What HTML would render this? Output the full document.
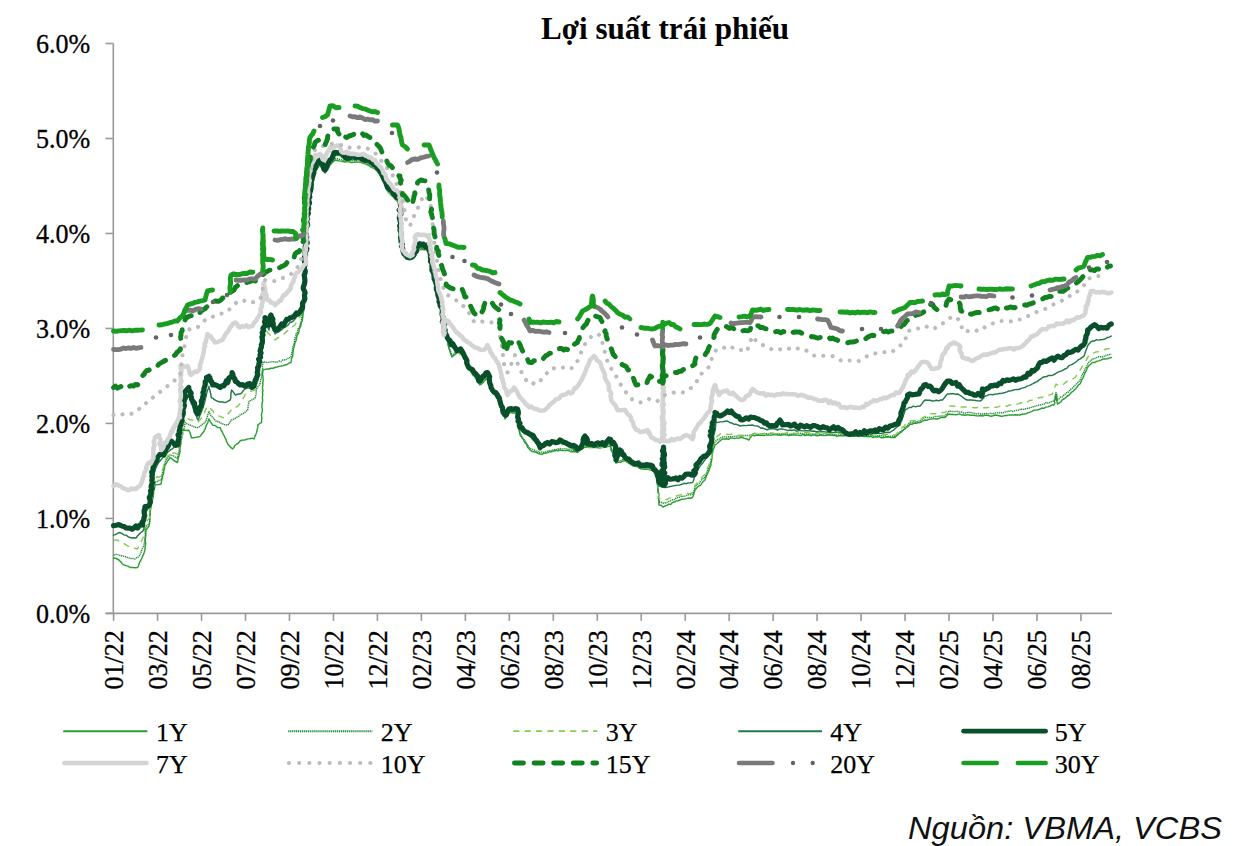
<!DOCTYPE html>
<html><head><meta charset="utf-8"><title>Lợi suất trái phiếu</title>
<style>
html,body{margin:0;padding:0;background:#fff;}
body{width:1242px;height:846px;overflow:hidden;font-family:"Liberation Serif",serif;}
svg{display:block}
</style></head><body>
<svg width="1242" height="846" viewBox="0 0 1242 846">
<rect width="1242" height="846" fill="#ffffff"/>
<g stroke="#9a9a9a" stroke-width="1.6" fill="none">
<path d="M113.3,43.5 V613.4"/>
<path d="M105.5,613.4 H1112"/>
<path d="M105.5,613.40 H113.3"/>
<path d="M105.5,518.42 H113.3"/>
<path d="M105.5,423.43 H113.3"/>
<path d="M105.5,328.45 H113.3"/>
<path d="M105.5,233.47 H113.3"/>
<path d="M105.5,138.48 H113.3"/>
<path d="M105.5,43.50 H113.3"/>
<path d="M113.60,613.4 V620.9"/>
<path d="M157.57,613.4 V620.9"/>
<path d="M201.54,613.4 V620.9"/>
<path d="M245.51,613.4 V620.9"/>
<path d="M289.48,613.4 V620.9"/>
<path d="M333.45,613.4 V620.9"/>
<path d="M377.42,613.4 V620.9"/>
<path d="M421.39,613.4 V620.9"/>
<path d="M465.36,613.4 V620.9"/>
<path d="M509.33,613.4 V620.9"/>
<path d="M553.30,613.4 V620.9"/>
<path d="M597.27,613.4 V620.9"/>
<path d="M641.24,613.4 V620.9"/>
<path d="M685.21,613.4 V620.9"/>
<path d="M729.18,613.4 V620.9"/>
<path d="M773.15,613.4 V620.9"/>
<path d="M817.12,613.4 V620.9"/>
<path d="M861.09,613.4 V620.9"/>
<path d="M905.06,613.4 V620.9"/>
<path d="M949.03,613.4 V620.9"/>
<path d="M993.00,613.4 V620.9"/>
<path d="M1036.97,613.4 V620.9"/>
<path d="M1080.94,613.4 V620.9"/>
</g>
<g fill="none" stroke-linejoin="round" stroke-linecap="round">
<path d="M113.5,558 L116.25,558.51 L119,560 L120.67,561.82 L122.33,563.73 L124,565 L126,565.63 L128,566.14 L130,567.5 L132.5,567.47 L135,567.69 L137.5,567.5 L138.38,566.06 L139.25,563.26 L140.12,561.36 L141,560 L141.8,558.28 L142.6,556.19 L143.4,554.61 L144.2,552.39 L145,550 L145.08,548 L145.13,546 L145.73,544 L145.33,542 L145.31,540 L145.33,538 L145.72,536 L145.83,534 L145.82,532 L146,530 L147.5,527.98 L149,526 L149.25,524 L149.54,522 L149.83,520 L149.8,518 L149.51,516 L150.29,514 L149.97,512 L150.5,510 L150.83,507.92 L150.9,505.83 L151.63,503.75 L151.81,501.67 L152.43,499.58 L153.18,497.5 L153.11,495.42 L153.7,493.33 L153.56,491.25 L154.18,489.17 L154.78,487.08 L155,485 L157,484.63 L159,484.48 L161,484 L161.47,481.89 L161.65,479.78 L162.47,477.67 L162.58,475.56 L163.65,473.44 L163.55,471.33 L164.28,469.22 L164.56,467.11 L165,465 L166.25,463.51 L167.5,461.01 L168.75,459.77 L170,457.5 L171.88,458.7 L173.75,460.51 L175.62,461.5 L177.5,462.5 L177.95,460.42 L178.15,458.33 L178.93,456.25 L179.28,454.17 L179.98,452.08 L180,450 L180.05,447.8 L180.42,445.6 L180.56,443.4 L180.65,441.2 L180.77,439 L180.91,436.8 L180.87,434.6 L180.91,432.4 L181.3,430.2 L183.8,430.04 L186.3,430.44 L188.8,430.2 L190.03,432.7 L190.77,435.2 L191.4,437.7 L193.57,437.8 L195.75,437.36 L197.93,437 L200.1,436.4 L201.35,434.6 L202.6,432.96 L203.85,431.48 L205.1,428.9 L205.78,426.9 L206.45,424.9 L207.81,422.9 L208.2,420.9 L208.9,418.9 L210.17,421.36 L211.43,423.38 L212.7,425.1 L215.2,425.48 L217.7,427.49 L220.2,427.6 L221.12,430.21 L222.05,431.47 L222.97,433.6 L223.9,435.2 L224.85,437.43 L225.8,439.2 L226.75,441.68 L227.7,443.9 L229.37,445.72 L231.03,447.68 L232.7,448.9 L233.95,447.33 L235.2,445.2 L236.77,443.97 L238.35,443.24 L239.93,441.15 L241.5,440.2 L243.57,440.08 L245.63,439.78 L247.7,438.9 L249.8,438.78 L251.9,438.18 L254,438.9 L254.83,436.47 L255.67,434.86 L256.5,432.7 L257.06,430.17 L257.74,427.63 L257.8,425.1 L259.65,423.45 L261.5,422.6 L261.57,420.6 L261.79,418.59 L261.66,416.59 L261.33,414.58 L262.02,412.58 L262.32,410.57 L262.2,408.56 L261.8,406.56 L261.99,404.56 L262.2,402.55 L262.65,400.55 L262.43,398.54 L262.37,396.54 L262.78,394.53 L262.46,392.52 L262.97,390.52 L262.44,388.51 L262.56,386.51 L262.91,384.5 L262.8,382.5 L263.18,380.42 L263.02,378.33 L262.97,376.25 L262.5,374.17 L262.8,372.08 L263,370 L265,369.34 L267,368.95 L269,368.98 L271,368.2 L273,368.23 L275,367.5 L277,367.03 L279,366.37 L281,366.05 L283,365.67 L285,365 L287,364.51 L289,363.14 L291,362.5 L291.34,360.5 L291.47,358.5 L292.58,356.5 L292.95,354.5 L292.96,352.5 L293.29,350.5 L293.5,348.5 L294.24,346.5 L294.65,344.5 L295,342.5 L296.1,340.56 L296.39,338.61 L296.81,336.67 L297.23,334.72 L298.67,332.78 L299.05,330.83 L299.28,328.89 L300.38,326.94 L301,325 L301.04,322.86 L302.29,320.71 L302.55,318.57 L302.85,316.43 L303.1,314.29 L303.14,312.14 L304,310 L304.04,308 L303.76,306 L304.34,304 L303.83,302 L304.12,300 L304.69,298 L304.86,296 L304.25,294 L304.23,292 L304.88,290 L304.94,288 L304.56,286 L304.7,284 L304.77,282 L304.71,280 L304.9,278 L305.43,276 L305.37,274 L305.7,272 L305.31,270 L305.37,268 L305.23,266 L305.5,264 L305.28,262 L305.24,260 L305.9,258 L306.15,256 L306.07,254 L306.25,252 L306,250 L306.18,247.94 L306.06,245.88 L306.37,243.82 L306.38,241.76 L306.32,239.71 L306.3,237.65 L306.47,235.59 L306.94,233.53 L307.09,231.47 L307.06,229.41 L307.64,227.35 L307.45,225.29 L307.67,223.24 L307.94,221.18 L307.57,219.12 L307.45,217.06 L308,215 L308.51,212.92 L308.5,210.83 L309.31,208.75 L309.41,206.67 L309.91,204.58 L310.18,202.5 L309.9,200.42 L310.84,198.33 L310.84,196.25 L311.15,194.17 L311.56,192.08 L312,190 L312.58,188 L313.01,186 L313.44,184 L313.2,182 L313.86,180 L313.97,178 L314.78,176 L315.34,174 L315.42,172 L316,170 L317.33,168.43 L318.67,166.76 L320,165 L321.25,167.4 L322.5,168.67 L323.75,170.67 L325,173 L326.25,170.69 L327.5,169.7 L328.75,167.44 L330,165 L331.67,163.28 L333.33,161.76 L335,160 L337,160.45 L339,160.88 L341,161.12 L343,161.47 L345,162 L347.14,161.5 L349.29,161.74 L351.43,162.66 L353.57,162.21 L355.71,162.03 L357.86,161.91 L360,162 L362,162.78 L364,163.64 L366,163.99 L368,165 L370,166.33 L372,167.6 L374,168.45 L376,170 L377.17,171.35 L378.33,172.93 L379.5,174.57 L380.67,177.02 L381.83,177.61 L383,180 L383.83,181.89 L384.67,183.76 L385.5,185.75 L386.33,188.04 L387.17,190.45 L388,192 L389.75,193.78 L391.5,195.44 L393.25,197.01 L395,199 L396.67,200.62 L398.33,202.7 L400,204 L399.96,206 L399.83,208 L399.85,210 L399.94,212 L399.93,214 L400.58,216 L400.45,218 L400.36,220 L400.82,222 L400.37,224 L400.76,226 L400.82,228 L400.31,230 L400.36,232 L400.57,234 L401.06,236 L401.21,238 L400.65,240 L401,242 L401.68,244.14 L401.77,246.29 L402.19,248.43 L402.58,250.57 L403.07,252.71 L403.14,254.86 L404,257 L406.5,258.1 L409,260 L411.5,258.51 L414,258 L415,256.2 L416,254.72 L417,252.72 L418,250 L420,249.87 L422,249.31 L424,249.84 L426,249.62 L428,250 L429.1,252 L429.47,254 L430,256 L430.25,258 L431.08,260 L431.41,262 L431.32,264 L432.02,266 L432.51,268 L433,270 L433.3,272 L433.63,274 L433.82,276 L434.25,278 L434.36,280 L434.58,282 L435.46,284 L435.49,286 L435.81,288 L436,290 L436.28,292.17 L437.29,294.33 L438.2,296.5 L438.36,298.67 L439.6,300.83 L440,303 L440.24,305.08 L440.76,307.17 L440.97,309.25 L441.39,311.33 L441.96,313.42 L441.9,315.5 L442.71,317.58 L442.48,319.67 L442.78,321.75 L443.5,323.83 L443.41,325.92 L444,328 L444.41,330.12 L445.22,332.25 L445.79,334.38 L445.57,336.5 L446.62,338.62 L447.43,340.75 L447.79,342.88 L448,345 L448.61,347 L449.19,349 L449.93,351 L450.39,353 L451.27,355 L452,357 L454,355.26 L456,353.61 L458,352 L459.67,353.81 L461.33,354.57 L463,356 L463.83,357.42 L464.67,360.42 L465.5,361.57 L466.33,363.82 L467.17,365.95 L468,368 L469.2,369.46 L470.4,370.8 L471.6,372.7 L472.8,375.12 L474,376 L475.2,377.56 L476.4,379.55 L477.6,381.85 L478.8,383.5 L480,385 L481.6,383.91 L483.2,382.54 L484.8,380.08 L486.4,379.05 L488,378 L488.53,380.17 L489.12,382.33 L489.81,384.5 L490.11,386.67 L490.44,388.83 L491,391 L492.4,392.62 L493.8,394.12 L495.2,395.9 L496.6,397.67 L498,399 L498.83,400.86 L499.67,402.67 L500.5,404.66 L501.33,407.44 L502.17,409.51 L503,411 L503.74,413 L504.21,415 L504.7,417 L505,419 L506.33,417 L507.67,415.27 L509,413 L511,412.58 L513,412.92 L515,412.71 L517,413 L517.45,415 L517.41,417 L517.79,419 L518.19,421 L518.69,423 L518.45,425 L518.68,427 L519.38,429 L519.19,431 L519.84,433 L520,435 L521.11,436.44 L522.22,438.29 L523.33,439.28 L524.44,441.95 L525.56,443.13 L526.67,444.64 L527.78,447.39 L528.89,448.62 L530,450 L532,451.52 L534,451.76 L536,452.26 L538,453.24 L540,454 L542,454.24 L544,453.19 L546,452.98 L548,452.61 L550,451.64 L552,451.65 L554,451 L556,450.3 L558,450.75 L560,450 L562.19,450.58 L564.38,450.65 L566.56,450.57 L568.75,450.53 L570.94,451.76 L573.12,451.84 L575.31,451.51 L577.5,452.5 L579.38,451.1 L581.25,449.14 L583.12,448.36 L585,447 L587.14,447.2 L589.29,447.43 L591.43,447.52 L593.57,447.64 L595.71,447.26 L597.86,447.7 L600,448 L602,447.4 L604,447.11 L606,446.91 L608,446.65 L610,446 L611.06,447.89 L610.9,449.78 L612.1,451.67 L612.62,453.56 L613.77,455.44 L614.22,457.33 L614.27,459.22 L615.43,461.11 L616,463 L618.25,462.29 L620.5,462.4 L622.75,461.08 L625,461 L627,462.21 L629,463.45 L631,464.71 L633,466 L635,466.37 L637,466.48 L639,467.98 L641,468.8 L643,469 L645,469.17 L647,468.99 L649,469.68 L651,470.03 L653,470 L653.9,471.93 L654.8,473.99 L655.7,476.56 L656.6,477.55 L657.5,480 L657.49,482.08 L657.32,484.17 L657.71,486.25 L657.82,488.33 L657.89,490.42 L658.08,492.5 L658.81,494.58 L658.45,496.67 L658.6,498.75 L659.18,500.83 L658.86,502.92 L659,505 L661,505.31 L663,507 L665,506 L666.88,505.41 L668.75,504.13 L670.62,504.41 L672.5,502.5 L674.38,502.02 L676.25,500.86 L678.12,500.79 L680,500 L682.08,499.18 L684.17,499.14 L686.25,498.6 L688.33,498.09 L690.42,498.29 L692.5,497.5 L693.56,495 L694.18,492.5 L695,490 L696.43,488.21 L697.86,486.71 L699.29,485.82 L700.71,485.01 L702.14,482.67 L703.57,481.11 L705,480 L705.75,477.85 L706.5,475.81 L707.25,473.99 L708,472.42 L708.75,471.2 L709.5,468.75 L710.25,466.67 L711,465 L710.9,462.86 L711.62,460.71 L711.85,458.57 L711.85,456.43 L712.17,454.29 L712.7,452.14 L713,450 L714,447.9 L715,445 L716.88,443.75 L718.75,442.08 L720.62,440.37 L722.5,439 L724.5,438.98 L726.5,438.7 L728.5,439.27 L730.5,437.95 L732.5,438.1 L734.5,438.61 L736.5,437.84 L738.5,438.37 L740.5,437.63 L742.5,437.5 L744.67,438.39 L746.83,439.02 L749,440 L750.17,437.78 L751.33,436.28 L752.5,435 L754.52,435.72 L756.53,435.26 L758.55,435.24 L760.56,435.38 L762.58,435.23 L764.6,435.41 L766.61,434.89 L768.63,434.91 L770.65,435.39 L772.66,434.86 L774.68,434.47 L776.69,434.91 L778.71,434.78 L780.73,435.25 L782.74,434.71 L784.76,434.58 L786.77,434.87 L788.79,435.62 L790.81,434.98 L792.82,435.06 L794.84,435 L796.85,435.12 L798.87,435.37 L800.89,435.56 L802.9,434.34 L804.92,435.54 L806.94,435 L808.95,434.87 L810.97,435.72 L812.98,434.93 L815,435 L817,435.78 L819,435.51 L821,434.78 L823,435.45 L825,435.61 L827,435.32 L829,434.72 L831,435.36 L833,435.49 L835,435.18 L837,436.41 L839,435.65 L841,435.66 L843,435.76 L845,435.62 L847,435.69 L849,436.1 L851,436.25 L853,435.98 L855,436.21 L857,435.76 L859,436.58 L861,436.14 L863,436.59 L865,436.2 L867,436.42 L869,436.77 L871,436.27 L873,437.53 L875,436.86 L877,436.91 L879,436.71 L881,437.7 L883,437.68 L885,437.31 L887,436.7 L889,437.11 L891,437.62 L893,437.23 L895,437.5 L896.67,435.61 L898.33,434.19 L900,432.94 L901.67,431.84 L903.33,430.16 L905,429 L906.67,427.34 L908.33,426.39 L910,424 L912,424.41 L914,422.98 L916,423.24 L918,422.83 L920,422.5 L922.5,421.19 L925,420 L927,420.17 L929,419.37 L931,419.12 L933,418.85 L935,418.71 L937,419.01 L939,418.56 L941,417.46 L943,417.57 L945,417.5 L947,415.43 L949,414 L951.09,414.45 L953.19,414.34 L955.28,414.73 L957.38,414.48 L959.47,413.9 L961.56,414.93 L963.66,414.97 L965.75,415.2 L967.84,414.6 L969.94,415.28 L972.03,415.1 L974.12,415.23 L976.22,415.77 L978.31,415.89 L980.41,415.52 L982.5,416 L984.58,415.26 L986.67,415.17 L988.75,415.6 L990.83,416.23 L992.92,415.7 L995,414.95 L997.08,415.27 L999.17,415.72 L1001.25,416.17 L1003.33,415.91 L1005.42,415.54 L1007.5,415.41 L1009.58,414.85 L1011.67,415.04 L1013.75,415.03 L1015.83,414.8 L1017.92,415.08 L1020,415 L1022,414.24 L1024,413.93 L1026,413.77 L1028,412.9 L1030,412.17 L1032,411.3 L1034,410.19 L1036,410.15 L1038,409.82 L1040,409 L1042,408.03 L1044,408.36 L1046,407.15 L1048,406.86 L1050,406.01 L1052,405.07 L1054,405 L1054.83,403 L1054.52,401 L1055.42,399 L1055.47,397 L1056,395 L1056.44,397.25 L1056.56,399.5 L1057.03,401.75 L1057.5,404 L1059.06,403.12 L1060.62,402.22 L1062.19,399.91 L1063.75,399 L1065.31,398.13 L1066.88,396.25 L1068.44,395.53 L1070,394 L1071.43,392.26 L1072.86,391.38 L1074.29,389.89 L1075.71,388.77 L1077.14,387 L1078.57,384.95 L1080,384 L1080.83,382.43 L1081.67,379.89 L1082.5,378.8 L1083.33,377.27 L1084.17,375.07 L1085,372.78 L1085.83,371.64 L1086.67,369.4 L1087.5,367.5 L1089.17,365.34 L1090.83,364.02 L1092.5,362.5 L1094.59,362.51 L1096.68,361.27 L1098.77,360.88 L1100.86,360.14 L1102.94,359.05 L1105.03,358.96 L1107.12,358.75 L1109.21,358.14 L1111.3,357.5" stroke="#2aa033" stroke-width="1.45"/>
<path d="M113.5,555 L116.25,554.42 L119,555 L121.12,555.72 L123.25,556.14 L125.38,556.68 L127.5,557.5 L130,558.39 L132.5,558.53 L135,559 L136.67,557.56 L138.33,557.05 L140,555 L140.8,552.8 L141.6,550.49 L142.4,548.45 L143.2,546.79 L144,545 L144.32,543 L144.54,541 L144.77,539 L145.1,537 L145.25,535 L145.16,533 L145.49,531 L145.5,529 L145.5,527 L147.5,525.04 L149.5,523.5 L149.83,521.44 L149.78,519.38 L149.84,517.31 L150.43,515.25 L150.32,513.19 L150.15,511.12 L150.37,509.06 L150.5,507 L151.31,504.92 L151.2,502.83 L151.82,500.75 L152.16,498.67 L152.51,496.58 L152.91,494.5 L153.02,492.42 L153.4,490.33 L153.85,488.25 L154.18,486.17 L154.83,484.08 L155,482 L157,481.98 L159,480.33 L161,480 L161.59,478 L161.66,476 L162.18,474 L162.73,472 L163.26,470 L163.57,468 L163.68,466 L164.91,464 L165,462 L166.25,460.16 L167.5,458.26 L168.75,457.05 L170,455 L171.88,455.53 L173.75,455.94 L175.62,457.47 L177.5,458 L178.03,456 L178.15,454 L178.97,452 L179.27,450 L179.32,448 L180,446 L180.87,444 L180.95,442 L181.05,440 L181.87,438 L182.23,436 L182.87,434 L182.75,432 L183.5,430 L184.3,427.53 L184.81,425.07 L185.1,422.6 L187.6,424.1 L190.1,425 L192.6,426.14 L195.1,427.29 L197.6,427.6 L199.47,426.66 L201.35,425.17 L203.22,423.53 L205.1,422.6 L206.14,420.36 L206.87,418.12 L207.47,415.88 L208.19,413.64 L208.9,411.4 L210.15,414.21 L211.4,416.4 L213.07,417.35 L214.73,419.88 L216.4,421.4 L218.5,421.51 L220.6,423.19 L222.7,423.9 L225.2,424.95 L227.7,425.1 L228.97,424.12 L230.23,421.53 L231.5,420 L234,419 L236.5,417.6 L238.57,416.36 L240.63,414.41 L242.7,413.9 L244.37,412.92 L246.03,411.31 L247.7,410 L248.05,407.82 L248.13,405.65 L248.68,403.48 L249,401.3 L251.1,400.12 L253.2,399.37 L255.3,397.6 L255.68,395.4 L256.33,393.2 L256.11,391 L256.5,388.8 L258.25,386.31 L260,384 L260.33,382 L260.48,380 L261.38,378 L261.5,376 L261.37,374 L262,372 L262.24,370 L262.69,368 L262.27,366 L262.85,364 L263,362 L265,361.92 L267,362.72 L269,362.19 L271,361.85 L273,361.79 L275,362 L277,362.32 L279,361.03 L281,361.52 L283,359.79 L285,360 L287,358.94 L289,357.92 L291,357 L291.28,354.89 L291.85,352.78 L292.51,350.67 L292.63,348.56 L292.88,346.44 L294.01,344.33 L294.48,342.22 L294.4,340.11 L295,338 L295.84,336 L296.07,334 L297.51,332 L297.69,330 L298.63,328 L299.93,326 L299.95,324 L301,322 L301.44,320 L301.61,318 L301.85,316 L302.44,314 L303.22,312 L303.26,310 L304,308 L303.94,305.95 L304.33,303.9 L304.18,301.84 L303.97,299.79 L304.72,297.74 L304.45,295.69 L304.84,293.64 L304.31,291.59 L305.04,289.53 L304.37,287.48 L304.35,285.43 L304.74,283.38 L304.82,281.33 L305.04,279.28 L304.91,277.22 L305.27,275.17 L305.51,273.12 L305.09,271.07 L304.99,269.02 L305.29,266.97 L305.66,264.91 L305.73,262.86 L305.51,260.81 L305.43,258.76 L305.73,256.71 L306.04,254.66 L305.7,252.6 L306.26,250.55 L306,248.5 L306.18,246.44 L306.32,244.38 L306.21,242.32 L306.81,240.26 L306.61,238.21 L306.35,236.15 L307.03,234.09 L306.85,232.03 L307.33,229.97 L307.23,227.91 L307.15,225.85 L307.46,223.79 L307.42,221.74 L307.46,219.68 L307.78,217.62 L308.1,215.56 L308,213.5 L308.36,211.42 L308.66,209.33 L308.88,207.25 L309.48,205.17 L309.74,203.08 L310.24,201 L310.43,198.92 L311.1,196.83 L310.63,194.75 L311.33,192.67 L311.81,190.58 L312,188.5 L312.63,186.5 L312.44,184.5 L312.91,182.5 L313.6,180.5 L314.27,178.5 L314.68,176.5 L314.44,174.5 L315.24,172.5 L315.9,170.5 L316,168.5 L317.33,166.86 L318.67,164.77 L320,163.5 L321.25,165.23 L322.5,166.98 L323.75,170 L325,171.5 L326.25,169.41 L327.5,167.34 L328.75,165.16 L330,163.5 L331.67,161.79 L333.33,159.82 L335,158.5 L337,158.52 L339,159.3 L341,159.62 L343,160.3 L345,160.5 L347.14,160.58 L349.29,161 L351.43,160.5 L353.57,160.62 L355.71,160.61 L357.86,160.19 L360,160.5 L362,161.75 L364,161.79 L366,162.13 L368,163.5 L370,165.27 L372,166.28 L374,167.04 L376,168.5 L377.17,170.57 L378.33,172.24 L379.5,173.8 L380.67,174.71 L381.83,176.92 L383,178.5 L383.83,180.1 L384.67,182.27 L385.5,184.29 L386.33,186.17 L387.17,188.72 L388,190.5 L389.75,191.95 L391.5,194.27 L393.25,195.84 L395,197.5 L396.67,198.94 L398.33,200.92 L400,202.5 L400.23,204.5 L400.39,206.5 L400.11,208.5 L400.64,210.5 L400.41,212.5 L400.63,214.5 L400.05,216.5 L400.17,218.5 L400.78,220.5 L400.48,222.5 L400.7,224.5 L400.93,226.5 L400.34,228.5 L400.86,230.5 L401.22,232.5 L401.05,234.5 L400.93,236.5 L401.09,238.5 L401,240.5 L401.44,242.64 L402.05,244.79 L402.61,246.93 L402.67,249.07 L403.29,251.21 L403.65,253.36 L404,255.5 L406.5,257.32 L409,258.5 L411.5,257.85 L414,256.5 L415,254.08 L416,252.99 L417,250.86 L418,248.5 L420,248.07 L422,248.4 L424,247.93 L426,248.4 L428,248.5 L428.76,250.5 L429.06,252.5 L430,254.5 L430.25,256.5 L430.65,258.5 L431.13,260.5 L431.54,262.5 L431.89,264.5 L432.72,266.5 L433,268.5 L433.26,270.5 L433.41,272.5 L434.15,274.5 L434.07,276.5 L434.73,278.5 L434.51,280.5 L435.45,282.5 L435.3,284.5 L435.48,286.5 L436,288.5 L436.78,290.67 L437.02,292.83 L437.75,295 L438.73,297.17 L439.23,299.33 L440,301.5 L440.44,303.58 L440.71,305.67 L441.07,307.75 L441.37,309.83 L441.85,311.92 L442.01,314 L442.61,316.08 L442.9,318.17 L442.57,320.25 L442.92,322.33 L444.05,324.42 L444,326.5 L444.4,328.62 L445.05,330.75 L445.48,332.88 L446.08,335 L446.93,337.12 L446.84,339.25 L447.53,341.38 L448,343.5 L448.68,345.5 L449.08,347.5 L449.8,349.5 L450.61,351.5 L451.34,353.5 L452,355.5 L454,354 L456,351.45 L458,350.5 L459.67,351.22 L461.33,353.85 L463,354.5 L463.83,356.44 L464.67,358.85 L465.5,360.35 L466.33,362.23 L467.17,365.22 L468,366.5 L469.2,367.62 L470.4,369.35 L471.6,371.59 L472.8,372.92 L474,374.5 L475.2,375.66 L476.4,378.17 L477.6,380.21 L478.8,381.1 L480,383.5 L481.6,381.89 L483.2,381.03 L484.8,380.02 L486.4,377.18 L488,376.5 L488.34,378.67 L489.01,380.83 L489.29,383 L489.79,385.17 L490.39,387.33 L491,389.5 L492.4,391.32 L493.8,392.29 L495.2,394.66 L496.6,396.25 L498,397.5 L498.83,399.86 L499.67,402.13 L500.5,403.3 L501.33,405.49 L502.17,407.92 L503,409.5 L503.81,411.5 L504.24,413.5 L504.4,415.5 L505,417.5 L506.33,415.32 L507.67,412.99 L509,411.5 L511,411.34 L513,411.15 L515,411.32 L517,411.5 L517.19,413.5 L517.75,415.5 L518.03,417.5 L518.09,419.5 L518.1,421.5 L518.63,423.5 L519.02,425.5 L519.4,427.5 L519.51,429.5 L519.93,431.5 L520,433.5 L521.11,434.92 L522.22,437.11 L523.33,438.81 L524.44,440.04 L525.56,441.54 L526.67,444.01 L527.78,444.78 L528.89,447.12 L530,448.5 L532,449.21 L534,449.97 L536,450.81 L538,451.54 L540,452.5 L542,452.1 L544,452.42 L546,451.9 L548,450.86 L550,450.7 L552,450.48 L554,449.54 L556,450.02 L558,448.93 L560,448.5 L562.19,449.08 L564.38,448.76 L566.56,449 L568.75,449.36 L570.94,449.82 L573.12,450.8 L575.31,450.57 L577.5,451 L579.38,449.99 L581.25,448.1 L583.12,446.51 L585,445.5 L587.14,445.72 L589.29,445.64 L591.43,445.28 L593.57,446.1 L595.71,446.7 L597.86,446.29 L600,446.5 L602,445.63 L604,445.41 L606,444.83 L608,444.82 L610,444.5 L610.45,446.39 L611.31,448.28 L612.05,450.17 L612.99,452.06 L613.06,453.94 L613.57,455.83 L615.07,457.72 L615.45,459.61 L616,461.5 L618.25,460.87 L620.5,460.72 L622.75,459.64 L625,459.5 L627,460.63 L629,462.28 L631,463.14 L633,464.5 L635,465.17 L637,465.89 L639,466.36 L641,466.82 L643,467.5 L645,467.92 L647,468.44 L649,468.62 L651,467.96 L653,468.5 L653.9,470.72 L654.8,471.58 L655.7,473.65 L656.6,476.27 L657.5,478 L657.76,480 L658.09,482 L657.47,484 L658.27,486 L658,488 L658.15,490 L658.49,492 L658.85,494 L658.41,496 L658.35,498 L658.74,500 L659,502 L661,502.3 L663,503.16 L665,503 L666.88,502.41 L668.75,501.39 L670.62,500.56 L672.5,499.83 L674.38,499.65 L676.25,497.85 L678.12,497.49 L680,497 L682.08,496.16 L684.17,496.46 L686.25,495.56 L688.33,494.74 L690.42,494.81 L692.5,494 L693.77,491.67 L694.42,489.33 L695,487 L696.43,485.06 L697.86,484.07 L699.29,483.18 L700.71,480.57 L702.14,479.38 L703.57,478.27 L705,477 L705.75,475.35 L706.5,472.93 L707.25,471.45 L708,469.45 L708.75,467.77 L709.5,465.28 L710.25,463.15 L711,462 L710.85,460 L711.62,458 L712.1,456 L712.26,454 L712.05,452 L712.3,450 L713,448 L713.6,446 L714.12,444 L715,442 L716.88,440.03 L718.75,439.28 L720.62,437.94 L722.5,437 L724.5,436.86 L726.5,436.96 L728.5,436.78 L730.5,436.68 L732.5,436.72 L734.5,436.37 L736.5,436.13 L738.5,436.07 L740.5,436.58 L742.5,436 L744.5,435.5 L746.5,435.53 L748.5,435.47 L750.5,435.1 L752.5,434 L754.52,433.28 L756.53,434.07 L758.55,434.4 L760.56,433.83 L762.58,433.72 L764.6,433.44 L766.61,433.74 L768.63,434.01 L770.65,433.28 L772.66,434 L774.68,433.67 L776.69,434.01 L778.71,433.57 L780.73,434.04 L782.74,434.07 L784.76,433.73 L786.77,433.74 L788.79,434.39 L790.81,434.26 L792.82,433.69 L794.84,434.18 L796.85,433.54 L798.87,433.8 L800.89,433.28 L802.9,433.78 L804.92,434.28 L806.94,433.81 L808.95,434.24 L810.97,433.75 L812.98,434.13 L815,434 L817,434.01 L819,433.74 L821,434.91 L823,433.92 L825,433.78 L827,434.43 L829,434.63 L831,434.64 L833,434.53 L835,434.82 L837,435.07 L839,435 L841,434.27 L843,435.57 L845,434.93 L847,434.28 L849,435.4 L851,435.07 L853,435.31 L855,435.97 L857,435.1 L859,435.13 L861,435.05 L863,435.58 L865,435.83 L867,435.79 L869,435.76 L871,435.03 L873,435.92 L875,436.31 L877,435.74 L879,435.79 L881,435.66 L883,436.23 L885,435.57 L887,436.97 L889,436.24 L891,436.14 L893,435.96 L895,436.5 L896.67,435.22 L898.33,433.89 L900,431.78 L901.67,430.57 L903.33,429.12 L905,427.5 L906.67,426.23 L908.33,424.42 L910,422.5 L912,422.7 L914,421.34 L916,422.32 L918,421.11 L920,421 L921.67,419.39 L923.33,418.3 L925,417.5 L927,417.51 L929,417.51 L931,417.77 L933,417.4 L935,416.45 L937,416.47 L939,416.27 L941,416.07 L943,416.09 L945,416 L946.33,414.09 L947.67,413.14 L949,411 L951.09,411.33 L953.19,411.63 L955.28,411.51 L957.38,411.29 L959.47,412.12 L961.56,411.97 L963.66,413.03 L965.75,413 L967.84,412.21 L969.94,412.49 L972.03,412.85 L974.12,413.17 L976.22,413.9 L978.31,413.56 L980.41,414 L982.5,414 L984.55,413.7 L986.59,413.56 L988.64,413.95 L990.68,413.28 L992.73,413.81 L994.77,412.9 L996.82,412.89 L998.86,412.71 L1000.91,412.64 L1002.95,412.9 L1005,412 L1007,411.44 L1009,411.2 L1011,410.73 L1013,411.52 L1015,410.69 L1017,410.39 L1019,410.09 L1021,408.88 L1023,409.62 L1025,409 L1027.14,408.49 L1029.29,407.99 L1031.43,407.33 L1033.57,406.69 L1035.71,406.12 L1037.86,405.35 L1040,405 L1042,404.35 L1044,404.12 L1046,402.57 L1048,403.05 L1050,402.41 L1052,401.15 L1054,401 L1054.63,398.88 L1055.08,396.75 L1055.38,394.62 L1056,392.5 L1056.91,395 L1057.05,397.5 L1057.5,400 L1059.06,398.7 L1060.62,396.99 L1062.19,396.97 L1063.75,395.1 L1065.31,393.88 L1066.88,392.42 L1068.44,391.97 L1070,390 L1071.43,388.52 L1072.86,387.78 L1074.29,386.14 L1075.71,384.68 L1077.14,383.12 L1078.57,381.9 L1080,380 L1080.94,377.96 L1081.88,375.28 L1082.81,373.28 L1083.75,372.45 L1084.69,369.28 L1085.62,368.54 L1086.56,366.72 L1087.5,364 L1089.17,361.61 L1090.83,360.92 L1092.5,359 L1094.59,358.64 L1096.68,357.61 L1098.77,356.61 L1100.86,356.75 L1102.94,356.91 L1105.03,355.63 L1107.12,355.12 L1109.21,354.6 L1111.3,354" stroke="#258a3c" stroke-width="1.45" stroke-dasharray="1.25 0.7" stroke-linecap="butt"/>
<path d="M113.5,540 L115.5,539.97 L117.5,540 L119.29,541.53 L121.07,541.73 L122.86,542.38 L124.64,544.1 L126.43,545.23 L128.21,546.15 L130,547 L132.5,547.87 L135,548.31 L137.5,549 L138.67,546.65 L139.83,544.43 L141,542.5 L141.75,540.58 L142.5,538.65 L143.25,537.23 L144,535 L144.37,532.83 L144.19,530.67 L144.82,528.5 L144.88,526.33 L145.34,524.17 L145.3,522 L147.4,520.56 L149.5,518 L149.81,515.83 L149.48,513.67 L150.16,511.5 L149.86,509.33 L150.69,507.17 L150.5,505 L150.73,502.92 L151.18,500.85 L151.92,498.77 L151.53,496.69 L152.26,494.62 L152.37,492.54 L152.84,490.46 L153.12,488.38 L153.78,486.31 L153.92,484.23 L154.4,482.15 L154.81,480.08 L155,478 L157,476.77 L159,477.2 L161,476 L161.47,474 L161.67,472 L162.38,470 L163.21,468 L163.74,466 L163.88,464 L164.55,462 L165,460 L166.25,458.12 L167.5,456.41 L168.75,453.99 L170,452 L172.5,453.05 L175,453.06 L177.5,454 L177.79,452 L178.5,450 L178.93,448 L179.18,446 L179.74,444 L180,442 L180.51,439.88 L181.06,437.75 L181.59,435.62 L181.89,433.5 L182.39,431.38 L182.57,429.25 L182.97,427.12 L183.5,425 L183.66,422.53 L184.68,420.07 L185.1,417.6 L187.2,418.45 L189.3,419.43 L191.4,420 L193.47,420.24 L195.53,421.6 L197.6,422.6 L199.27,420.77 L200.93,418.66 L202.6,417.6 L203.58,415.6 L204.41,413.6 L204.63,411.6 L205.76,409.6 L206.4,407.6 L207.6,406.3 L210.2,407.6 L211.45,409.81 L212.7,410.36 L213.95,412.72 L215.2,413.9 L217.7,415.76 L220.2,416.4 L222.7,417.63 L225.2,417.6 L226.87,415.09 L228.53,413.13 L230.2,411.4 L231.45,409.62 L232.7,407.6 L235.2,407.42 L237.7,406.3 L239.6,404.04 L241.5,402.6 L242.43,400.17 L243.35,397.84 L244.27,396.44 L245.2,393.8 L247.7,392.39 L250.2,391.3 L252.75,390.9 L255.3,390 L256.01,388 L256.67,386 L257.06,384 L257.5,382 L257.85,380 L258.27,378 L258.38,376 L258.25,374 L258.66,372 L259.22,370 L259.3,368 L259.5,366 L259.7,364 L260.08,362 L260.63,360 L260.51,358 L260.88,356 L261.12,354 L261.22,352 L261.5,350 L262.53,347.5 L263,345 L263.49,342.86 L263.68,340.71 L263.59,338.57 L264.44,336.43 L264.62,334.29 L264.72,332.14 L265,330 L266.67,331.04 L268.33,333.35 L270,335 L271.67,336.27 L273.33,338.29 L275,340 L276.67,338.69 L278.33,337.41 L280,336.9 L281.67,335.42 L283.33,334.65 L285,333 L286.67,331.36 L288.33,330.31 L290,329.53 L291.67,327.82 L293.33,326.11 L295,325 L296.2,322.72 L297.4,320.83 L298.6,319.01 L299.8,317.29 L301,315 L301.66,313 L302.39,311 L303.01,309 L303.45,307 L304,305 L304.36,302.94 L304.29,300.89 L304.15,298.83 L304.21,296.78 L304.3,294.72 L304.2,292.67 L304.12,290.61 L304.48,288.56 L304.41,286.5 L304.71,284.44 L304.51,282.39 L304.71,280.33 L304.79,278.28 L304.7,276.22 L304.9,274.17 L304.76,272.11 L304.88,270.06 L305,268 L305.3,266 L305.31,264 L305.32,262 L305.25,260 L305.67,258 L305.98,256 L305.32,254 L306.05,252 L305.97,250 L306.26,248 L306.38,246 L306,244 L306.68,242 L306.3,240 L306.47,238 L306.76,236 L306.7,234 L306.88,232 L306.81,230 L306.8,228 L307.13,226 L306.99,224 L307.61,222 L307.48,220 L307.5,218 L308.06,216 L307.72,214 L307.82,212 L308.06,210 L308.61,208 L308.64,206 L309.23,204 L309.07,202 L309.32,200 L309.92,198 L310,196 L310.47,194 L310.73,192 L310.87,190 L311,188 L311.16,186 L311.64,184 L312.58,182 L312.57,180 L313.09,178 L313.45,176 L313.82,174 L314.19,172 L314.5,170 L315,168 L316.67,166.19 L318.33,164.04 L320,163 L321,165.63 L322,167 L323,168.57 L324,171.22 L325,173 L326,171.28 L327,168.52 L328,166.85 L329,165.57 L330,163 L331,161.36 L332,159.44 L333,157.77 L334,155.5 L336,155.49 L338,155.43 L340,155.5 L341.67,157.78 L343.33,158.8 L345,160.5 L347.14,160.51 L349.29,160.77 L351.43,160.55 L353.57,160.09 L355.71,161.13 L357.86,160.51 L360,160.5 L362.5,161.96 L365,162.39 L367.5,163 L369.62,163.96 L371.75,166.09 L373.88,166.72 L376,168 L377.3,169.73 L378.6,172.03 L379.9,173.37 L381.2,176.18 L382.5,178 L383.33,179.86 L384.17,182.11 L385,183.97 L385.83,186.61 L386.67,188.58 L387.5,190.5 L389,192.43 L390.5,194.13 L392,195.14 L393.5,196.57 L395,198 L396.67,199.81 L398.33,201.08 L400,203 L399.95,205 L400.28,207 L399.99,209 L399.82,211 L400.2,213 L400.38,215 L400.69,217 L400.27,219 L400.27,221 L400.54,223 L400.54,225 L400.68,227 L400.56,229 L400.76,231 L400.65,233 L401.03,235 L400.93,237 L401.04,239 L400.88,241 L401,243 L401.14,245 L401.88,247 L402.3,249 L402.97,251 L403.37,253 L403.59,255 L404,257 L405.67,258.19 L407.33,259.01 L409,260.5 L411.5,259.27 L414,258 L414.77,256 L415.33,254 L415.89,252 L417.1,250 L417.5,248 L419.5,247.7 L421.5,248.63 L423.5,248.46 L425.5,248.59 L427.5,248 L428.17,250.5 L429.32,253 L430,255.5 L430.01,257.71 L430.51,259.93 L430.55,262.14 L431.01,264.36 L431.34,266.57 L431.94,268.79 L432,271 L432.73,273.17 L432.9,275.33 L433.39,277.5 L433.73,279.67 L434.16,281.83 L434.5,284 L435.32,286.17 L435.97,288.33 L436.3,290.5 L436.66,292.5 L437.4,294.5 L437.57,296.5 L438.1,298.5 L438.8,300.5 L439.29,302.58 L440.17,304.67 L440.46,306.75 L441.32,308.83 L441.66,310.92 L442.3,313 L442.27,315 L442.3,317 L442.78,319 L442.87,321 L443.46,323 L443.55,325 L443.29,327 L444.01,329 L444,331 L444.83,333 L445.02,335 L445.9,337 L446.87,339 L447.5,341 L448.75,342.05 L450,343.94 L451.25,345.96 L452.5,347.45 L453.75,349.11 L455,350.5 L456.88,351.87 L458.75,352.47 L460.62,354.5 L462.5,355 L463.46,357.17 L464.54,359.33 L464.96,361.5 L465.97,363.67 L466.76,365.83 L467.5,368 L469.12,369.85 L470.75,371.89 L472.38,373.74 L474,375.5 L475.2,377.52 L476.4,379.04 L477.6,380.65 L478.8,382.5 L480,384 L481.5,382.84 L483,380.65 L484.5,379.14 L486,377.28 L487.5,375.5 L487.62,377.64 L488.33,379.79 L488.82,381.93 L489.22,384.07 L489.89,386.21 L490.14,388.36 L491,390.5 L492.62,392.5 L494.25,394.09 L495.88,396.58 L497.5,398 L498.33,400.25 L499.17,401.74 L500,404.2 L500.83,406.38 L501.67,408.2 L502.5,410.5 L503.27,413 L503.95,415.5 L505,418 L506.33,415.77 L507.67,414.12 L509,412 L511.12,411.91 L513.25,412.45 L515.38,411.37 L517.5,412 L517.63,414.06 L517.99,416.11 L518.66,418.17 L518.86,420.22 L519.06,422.28 L519.39,424.33 L519.8,426.39 L519.88,428.44 L520,430.5 L521.88,431.69 L523.75,433.09 L525.62,434.02 L527.5,435.5 L529.38,437.07 L531.25,438.9 L533.12,440.22 L535,442 L536.25,444.18 L537.5,446.12 L538.75,447.94 L540,450.5 L541.88,448.77 L543.75,448.26 L545.62,446.78 L547.5,445.5 L549.58,445.4 L551.67,444.65 L553.75,444.27 L555.83,443.95 L557.92,443.32 L560,443 L562,444.5 L564,445.37 L566,446.16 L568,446.65 L570,448 L571.88,448.83 L573.75,450.09 L575.62,451.42 L577.5,452 L579.17,450.34 L580.83,448.67 L582.5,447 L583.25,445 L583.78,443 L584.35,441 L585,439 L585.4,441 L586.52,443 L586.87,445 L587.5,447 L589.58,446.83 L591.67,446.98 L593.75,446.55 L595.83,446.43 L597.92,446.39 L600,447 L602.5,447.64 L605,448 L606.33,445.55 L607.67,444.05 L609,442 L610.5,443.1 L612,444.39 L613.5,446.29 L615,448 L614.99,450.14 L615.15,452.29 L615.8,454.43 L615.62,456.57 L615.59,458.71 L616.04,460.86 L616,463 L616.8,460.9 L617.6,459.43 L618.4,456.46 L619.2,455.39 L620,453 L621.25,454.5 L622.5,456.5 L623.75,458.7 L625,460.5 L626.88,461.38 L628.75,462.43 L630.62,464.12 L632.5,465.5 L634.5,465.9 L636.5,465.93 L638.5,467.35 L640.5,467.22 L642.5,468 L644.5,467.99 L646.5,468.32 L648.5,468.62 L650.5,469.17 L652.5,469 L653.67,470.04 L654.83,472.34 L656,474 L656.94,476 L657.5,478 L657.7,480 L657.79,482 L657.72,484 L658.17,486 L658.15,488 L658.43,490 L658.33,492 L658.63,494 L658.82,496 L659,498 L661,498.15 L663,499.69 L665,500 L667.14,499.24 L669.29,498.12 L671.43,497.77 L673.57,497.19 L675.71,496.31 L677.86,495.35 L680,495 L682.08,494.51 L684.17,493.69 L686.25,493.17 L688.33,493.74 L690.42,493.51 L692.5,492.5 L693.71,490 L694.54,487.5 L695,485 L696.43,483.9 L697.86,481.53 L699.29,480.09 L700.71,479.1 L702.14,476.98 L703.57,475.45 L705,474 L705.86,471.99 L706.71,470.15 L707.57,467.52 L708.43,466.01 L709.29,464.17 L710.14,461.37 L711,460 L711.52,458 L711.73,456 L711.69,454 L712.52,452 L712.52,450 L712.82,448 L713,446 L713.83,443.88 L713.62,441.75 L714.5,439.62 L715,437.5 L716.67,436.71 L718.33,435.66 L720,434 L722,434.12 L724,434.2 L726,434.13 L728,434.42 L730,434.37 L732,434.17 L734,434.73 L736,434.71 L738,434.99 L740,435.17 L742,435.3 L744,435.64 L746,435.71 L748,435.74 L750,436 L752.5,434 L754.52,433.73 L756.53,433.87 L758.55,433.74 L760.56,433.76 L762.58,434.24 L764.6,433.79 L766.61,433.52 L768.63,432.98 L770.65,433.06 L772.66,432.89 L774.68,433.78 L776.69,433.8 L778.71,433.23 L780.73,433.16 L782.74,433.44 L784.76,433.43 L786.77,432.57 L788.79,433.04 L790.81,432.97 L792.82,432.59 L794.84,433.48 L796.85,433.2 L798.87,432.67 L800.89,432.82 L802.9,432.6 L804.92,432.56 L806.94,432.56 L808.95,433 L810.97,432.6 L812.98,432.38 L815,432.5 L817,432.32 L819,432.72 L821,432.38 L823,432.18 L825,432.76 L827,433.43 L829,432.7 L831,433.06 L833,432.99 L835,433.55 L837,433.35 L839,432.8 L841,433.92 L843,433.38 L845,433.12 L847,433.32 L849,433.58 L851,434 L853,433.59 L855,433.49 L857,434.28 L859,434.42 L861,433.81 L863,434.05 L865,434.19 L867,434.02 L869,433.87 L871,434.62 L873,433.93 L875,433.75 L877,434.64 L879,434.91 L881,434.85 L883,434.35 L885,434.6 L887,434.37 L889,434.63 L891,434.25 L893,434.63 L895,435 L896.43,434.05 L897.86,431.73 L899.29,431.32 L900.71,429.35 L902.14,427.23 L903.57,426.76 L905,425 L906.67,423.33 L908.33,422.53 L910,421 L912,420.74 L914,420.48 L916,420.34 L918,419.74 L920,420 L921.88,418.23 L923.75,416.86 L925.62,416.12 L927.5,414 L929.69,413.61 L931.88,413.74 L934.06,413.6 L936.25,413.68 L938.44,412.98 L940.62,412.95 L942.81,412.36 L945,412.5 L946.25,411.5 L947.5,408.73 L948.75,407.72 L950,406 L952.03,406 L954.06,406.31 L956.09,406.19 L958.12,406.34 L960.16,406.97 L962.19,407.09 L964.22,406.85 L966.25,406.95 L968.28,407.19 L970.31,407.23 L972.34,407.53 L974.38,407.77 L976.41,407.79 L978.44,407.2 L980.47,407.86 L982.5,408 L984.55,407.45 L986.59,407.8 L988.64,407.36 L990.68,407.38 L992.73,407.06 L994.77,407.24 L996.82,407.21 L998.86,406.61 L1000.91,405.84 L1002.95,406.19 L1005,406 L1007,406.28 L1009,405.06 L1011,404.93 L1013,405.23 L1015,404.85 L1017,404.13 L1019,403.63 L1021,402.74 L1023,403.43 L1025,402.5 L1027.14,402.11 L1029.29,400.48 L1031.43,400.32 L1033.57,399.6 L1035.71,398.91 L1037.86,397.99 L1040,397.5 L1042.08,397.55 L1044.17,396.03 L1046.25,396.27 L1048.33,395.4 L1050.42,394.59 L1052.5,394 L1053.3,392 L1054.06,390 L1054.44,388 L1055.23,386 L1056,384 L1058,385.43 L1060,386 L1061.88,385.28 L1063.75,384.02 L1065.62,382.4 L1067.5,381.19 L1069.38,381.22 L1071.25,380.14 L1073.12,378.75 L1075,377.5 L1076.11,375.98 L1077.22,374.06 L1078.33,372.68 L1079.44,371.26 L1080.56,369.44 L1081.67,367.32 L1082.78,365.97 L1083.89,363.99 L1085,362.5 L1086.25,360.36 L1087.5,357.87 L1088.75,355.5 L1090,354 L1092,353.04 L1094,352.88 L1096,351.93 L1098,351.8 L1100,351 L1102.26,350.11 L1104.52,349.71 L1106.78,348.75 L1109.04,348.71 L1111.3,347.5" stroke="#86cc52" stroke-width="1.45" stroke-dasharray="6.2 5.2" stroke-linecap="butt"/>
<path d="M113.5,535 L115.33,534.65 L117.17,533.72 L119,532.5 L121.5,533.2 L124,535 L126,535.11 L128,536.63 L130,537.5 L132,537.97 L134,537.77 L136,538 L137.67,535.58 L139.33,534.13 L141,532.5 L142.5,531.32 L144,529 L143.82,526.88 L144.55,524.75 L144.58,522.62 L144.72,520.5 L144.93,518.38 L144.77,516.25 L145.02,514.12 L145.2,512 L146.52,511.22 L147.85,508.85 L149.18,507.33 L150.5,506 L150.36,503.9 L150.79,501.8 L151.28,499.7 L151.6,497.6 L151.66,495.5 L151.85,493.4 L152.04,491.3 L152.18,489.2 L152.54,487.1 L152.5,485 L152.82,482.86 L153.47,480.71 L153.56,478.57 L153.55,476.43 L153.98,474.29 L154.6,472.14 L155,470 L156,467.82 L157,465.52 L158,463.7 L159,462 L160.42,460.41 L161.83,458.83 L163.25,457.34 L164.67,454.99 L166.08,453.82 L167.5,452 L169.12,451.16 L170.75,449.64 L172.38,448.95 L174,447 L175,444.98 L176,443.33 L177,441.57 L178,439.51 L179,437.82 L180,436 L180.37,434 L180.63,432 L180.83,430 L181.16,428 L181.57,426 L181.54,424 L182.26,422 L182.28,420 L182.79,418 L182.91,416 L183.51,414 L183.8,412 L183.93,410 L184.17,408 L184.28,406 L184.69,404 L185.26,402 L185.1,400 L187.05,397.29 L189,396 L189.79,398 L190.39,400 L190.91,402 L191.37,404 L192.71,406 L193,408 L193.83,410.07 L194.67,412.39 L195.5,413.86 L196.33,415.7 L197.17,418.42 L198,420 L198.83,418.29 L199.67,415.88 L200.5,413.92 L201.33,412.24 L202.17,409.69 L203,408 L203.3,406 L203.99,404 L204.74,402 L205.2,400 L205.55,398 L206.32,396 L206.47,394 L207,392 L207.52,390.1 L208.7,388.2 L208.9,386.3 L209.29,388.56 L210.04,390.82 L210.53,393.08 L210.93,395.34 L211.4,397.6 L213.5,398.92 L215.6,400.34 L217.7,401.3 L220.2,401.95 L222.7,401.94 L225.2,402.6 L227.7,401.3 L230.2,400 L230.79,398 L230.89,396 L230.88,394 L231.26,392 L231.5,390 L232.73,391.28 L233.97,392.83 L235.2,395 L237.7,394.2 L240.2,393.8 L241.87,392.76 L243.53,390.23 L245.2,388.8 L247.4,387.75 L249.6,388.11 L251.8,387.56 L254,387.5 L254.88,385.62 L255.69,383.75 L256.02,381.88 L256.8,380 L258,380 L258.23,378 L258.19,376 L258.88,374 L258.63,372 L259.01,370 L259.63,368 L259.19,366 L259.64,364 L259.79,362 L260,360 L260.41,358 L260.71,356 L261.25,354 L261.32,352 L261.64,350 L261.52,348 L262.2,346 L262.09,344 L262.99,342 L263,340 L263.21,338 L263.67,336 L263.55,334 L263.95,332 L264.13,330 L264.47,328 L264.53,326 L264.64,324 L265,322 L266,323.86 L267,325.75 L268,327.65 L269,330 L269.12,328 L269.46,326 L270.63,324 L270.43,322 L271,320 L271.32,322 L272.38,324 L272.78,326 L273.26,328 L274.13,330 L274.86,332 L275,334 L276.67,332.51 L278.33,332.23 L280,330.73 L281.67,329.79 L283.33,327.97 L285,327 L286.67,326.33 L288.33,324.79 L290,322.28 L291.67,322.17 L293.33,320.86 L295,319 L296.5,316.87 L298,315.94 L299.5,314.14 L301,312.69 L302.5,311 L302.68,309 L303.4,307 L303.8,305 L304,303 L304.04,301 L304.1,299 L303.77,297 L304.35,295 L303.98,293 L304.34,291 L304.21,289 L304.88,287 L304.5,285 L304.92,283 L304.61,281 L304.66,279 L304.9,277 L304.77,275 L305.27,273 L304.85,271 L305.33,269 L305,267 L304.82,265 L304.99,263 L305.46,261 L305.08,259 L305.93,257 L305.73,255 L305.72,253 L306.22,251 L305.78,249 L305.83,247 L305.67,245 L305.77,243 L306.23,241 L305.97,239 L306.68,237 L306.83,235 L306.81,233 L306.42,231 L306.7,229 L306.68,227 L307.27,225 L307.44,223 L307.25,221 L307.42,219 L307.5,217 L307.79,215 L308.14,213 L307.99,211 L308.21,209 L308.85,207 L309.02,205 L309.25,203 L309.38,201 L309.78,199 L309.95,197 L309.93,195 L310.71,193 L310.79,191 L310.71,189 L311,187 L311.38,185 L311.63,183 L311.87,181 L312.36,179 L312.67,177 L313.25,175 L313.88,173 L314.19,171 L314.26,169 L315,167 L316.67,165.26 L318.33,163.42 L320,162 L321,163.57 L322,166.44 L323,167.59 L324,170.36 L325,172 L326,169.34 L327,168.11 L328,165.73 L329,164.38 L330,162 L331,160.29 L332,157.95 L333,156.63 L334,154.5 L336,155.01 L338,155.03 L340,154.5 L341.67,156.75 L343.33,157.7 L345,159.5 L347.14,160.22 L349.29,159.27 L351.43,159.45 L353.57,158.9 L355.71,159.42 L357.86,158.93 L360,159.5 L362.5,160.38 L365,160.48 L367.5,162 L369.62,163.97 L371.75,164.83 L373.88,166.39 L376,167 L377.3,169.47 L378.6,171.07 L379.9,173.19 L381.2,175.09 L382.5,177 L383.33,178.36 L384.17,180.71 L385,183.1 L385.83,185.71 L386.67,186.88 L387.5,189.5 L389,191.08 L390.5,192.28 L392,194.3 L393.5,195.81 L395,197 L396.67,198.26 L398.33,199.89 L400,202 L400.4,204 L400.36,206 L400.15,208 L400.4,210 L400.27,212 L400.42,214 L400.26,216 L400.53,218 L400.85,220 L400.85,222 L400.86,224 L400.64,226 L400.89,228 L400.6,230 L400.68,232 L400.84,234 L400.6,236 L400.95,238 L400.55,240 L401,242 L401.82,244 L402.06,246 L402.36,248 L402.55,250 L403.01,252 L403.48,254 L404,256 L405.67,256.52 L407.33,258.17 L409,259.5 L411.5,257.9 L414,257 L414.91,255 L415.72,253 L416.45,251 L416.48,249 L417.5,247 L419.5,246.46 L421.5,247.58 L423.5,247.32 L425.5,247.43 L427.5,247 L428.5,249.5 L429.23,252 L430,254.5 L430.72,256.71 L430.78,258.93 L431.03,261.14 L430.91,263.36 L431.47,265.57 L432.04,267.79 L432,270 L432.62,272.17 L433.18,274.33 L433.39,276.5 L434.09,278.67 L434.26,280.83 L434.83,283 L435.61,285.17 L436.23,287.33 L436.3,289.5 L436.73,291.5 L437.25,293.5 L437.75,295.5 L438.26,297.5 L438.8,299.5 L439.4,301.58 L440.18,303.67 L440.64,305.75 L441.14,307.83 L441.83,309.92 L442.3,312 L442.07,314 L442.65,316 L443.3,318 L442.82,320 L443.11,322 L443.5,324 L443.87,326 L443.75,328 L444,330 L444.45,332 L445.77,334 L445.67,336 L446.59,338 L447.5,340 L448.75,341.29 L450,342.45 L451.25,345.3 L452.5,347.05 L453.75,347.32 L455,349.5 L456.88,350.47 L458.75,351.66 L460.62,353.16 L462.5,354 L463.29,356.17 L464.31,358.33 L465.12,360.5 L465.8,362.67 L466.68,364.83 L467.5,367 L469.12,369.44 L470.75,370.83 L472.38,372.89 L474,374.5 L475.2,376.19 L476.4,378.19 L477.6,380.26 L478.8,381.34 L480,383 L481.5,381.11 L483,379.31 L484.5,378.31 L486,375.9 L487.5,374.5 L488.12,376.64 L488.93,378.79 L489.06,380.93 L489.93,383.07 L490.01,385.21 L490.48,387.36 L491,389.5 L492.62,391.61 L494.25,392.91 L495.88,394.4 L497.5,397 L498.33,399.07 L499.17,400.88 L500,403.34 L500.83,406.05 L501.67,407.67 L502.5,409.5 L502.97,412 L504.27,414.5 L505,417 L506.33,414.29 L507.67,412.28 L509,411 L511.12,411.72 L513.25,410.63 L515.38,410.28 L517.5,411 L517.76,413.06 L518.01,415.11 L518.45,417.17 L518.57,419.22 L518.84,421.28 L519.38,423.33 L519.41,425.39 L519.55,427.44 L520,429.5 L521.88,430.9 L523.75,431.78 L525.62,433.7 L527.5,434.5 L529.38,436.15 L531.25,437.69 L533.12,439.21 L535,441 L536.25,443.38 L537.5,445.67 L538.75,447.26 L540,449.5 L541.88,447.53 L543.75,447.32 L545.62,445.45 L547.5,444.5 L549.58,444.34 L551.67,443.43 L553.75,443.42 L555.83,442.74 L557.92,442.1 L560,442 L562,442.48 L564,443.97 L566,445.07 L568,445.35 L570,447 L571.88,447.28 L573.75,449.12 L575.62,450.72 L577.5,451 L579.17,449.02 L580.83,447.57 L582.5,446 L582.87,444 L583.45,442 L584.74,440 L585,438 L585.23,440 L586.32,442 L586.7,444 L587.5,446 L589.58,446.25 L591.67,446.64 L593.75,446.07 L595.83,445.88 L597.92,446.45 L600,446 L602.5,446.39 L605,447 L606.33,444.28 L607.67,443.56 L609,441 L610.5,442.3 L612,444.1 L613.5,446.22 L615,447 L615.38,449.14 L615.37,451.29 L615.84,453.43 L615.36,455.57 L615.31,457.71 L615.59,459.86 L616,462 L616.8,460.05 L617.6,458.1 L618.4,455.73 L619.2,454.72 L620,452 L621.25,454.22 L622.5,455.84 L623.75,457.35 L625,459.5 L626.88,460.74 L628.75,462.13 L630.62,463.11 L632.5,464.5 L634.5,465.72 L636.5,466.21 L638.5,466.28 L640.5,466.52 L642.5,467 L644.5,466.51 L646.5,467.85 L648.5,467.33 L650.5,468.25 L652.5,468 L653.67,469.85 L654.83,470.81 L656,473 L656.52,475.17 L656.96,477.33 L657.45,479.5 L657.99,481.67 L658.53,483.83 L659,486 L661,486.43 L663,487.35 L665,487.5 L667.12,487.35 L669.23,486.68 L671.35,486.3 L673.46,485.84 L675.58,485.43 L677.69,485.14 L679.81,484.91 L681.92,484.31 L684.04,483.32 L686.15,483.7 L688.27,482.92 L690.38,482.89 L692.5,482.5 L693.63,480.5 L694.16,478.5 L694.17,476.5 L694.87,474.5 L696,472.5 L697.29,471.13 L698.57,468.62 L699.86,466.51 L701.14,464.66 L702.43,463.52 L703.71,461.47 L705,460 L705.94,458.13 L706.88,456.14 L707.81,454.39 L708.75,452.33 L709.69,450.3 L710.62,449.05 L711.56,447.52 L712.5,445 L712.61,442.95 L713.1,440.91 L713.89,438.86 L713.51,436.82 L713.82,434.77 L714.55,432.73 L714.95,430.68 L715.05,428.64 L715.65,426.59 L715.66,424.55 L716,422.5 L718.3,422.3 L720.6,421.9 L722.9,421.74 L725.2,421.32 L727.5,421 L729.58,422.43 L731.67,422.97 L733.75,424.18 L735.83,424.28 L737.92,424.86 L740,426 L742.08,425.59 L744.17,425.51 L746.25,425.64 L748.33,425.17 L750.42,425.29 L752.5,425 L754.58,425.85 L756.67,425.87 L758.75,426.44 L760.83,428.21 L762.92,428.08 L765,429 L767.08,429.8 L769.17,429.05 L771.25,428.7 L773.33,428.86 L775.42,429.1 L777.5,430.22 L779.58,428.86 L781.67,428.95 L783.75,429.38 L785.83,429.86 L787.92,430.64 L790,430 L792,430.52 L794,429.82 L796,430.94 L798,430.93 L800,430.24 L802,430.85 L804,430.86 L806,430.75 L808,430.72 L810,430.77 L812,431.29 L814,431 L816,431.66 L818,431.69 L820,430.86 L822,431.78 L824,431.64 L826,432.13 L828,431.76 L830,432.49 L832,432.45 L834,432.58 L836,432.56 L838,431.85 L840,432.5 L842.08,432.61 L844.17,433.21 L846.25,433.25 L848.33,433.25 L850.42,433.13 L852.5,433.23 L854.58,432.83 L856.67,432.78 L858.75,433.56 L860.83,434.09 L862.92,433.78 L865,434 L867.08,433.66 L869.17,433.68 L871.25,434.18 L873.33,433.26 L875.42,433.35 L877.5,433.4 L879.58,433.57 L881.67,433.18 L883.75,432.68 L885.83,432.55 L887.92,432.17 L890,432.5 L891.67,431.18 L893.33,430.41 L895,428.83 L896.67,427.33 L898.33,425.81 L900,425 L900.63,422.86 L901.62,420.71 L902.3,418.57 L902.97,416.43 L903.79,414.29 L904.59,412.14 L905,410 L907,408.85 L909,407.5 L911.2,407.47 L913.4,406.18 L915.6,406.88 L917.8,406.18 L920,406 L921.67,404.12 L923.33,401.64 L925,400 L927.5,400.23 L930,400.23 L932.5,401 L934.5,400.78 L936.5,400.2 L938.5,400.83 L940.5,400.09 L942.5,400 L944.17,398.08 L945.83,395.76 L947.5,394 L949.5,393.96 L951.5,393.73 L953.5,393.67 L955.5,394.21 L957.5,394 L959.38,394.98 L961.25,396.05 L963.12,397.6 L965,399 L967.14,400.01 L969.29,400.01 L971.43,399.97 L973.57,400.27 L975.71,400.57 L977.86,400.9 L980,401 L981.67,400.05 L983.33,398.3 L985,396 L987,395.74 L989,394.63 L991,394.59 L993,394.72 L995,394.08 L997,394.1 L999,393.45 L1001,393.41 L1003,393.05 L1005,392.5 L1007,391.83 L1009,391 L1011,390.9 L1013,390.24 L1015,389.65 L1017,389.56 L1019,389.5 L1021,388.38 L1023,387.86 L1025,387.5 L1027,386.09 L1029,385.63 L1031,384.62 L1033,383.6 L1035,382.5 L1036.88,381.9 L1038.75,380.13 L1040.62,379.19 L1042.5,377.5 L1044.58,376.8 L1046.67,376.51 L1048.75,375.43 L1050.83,375.5 L1052.92,375.19 L1055,374 L1057,372.65 L1059,371.69 L1061,371.13 L1063,370.03 L1065,369 L1067,368.07 L1069,365.68 L1071,364.89 L1073,364.03 L1075,362.5 L1076.8,361.32 L1078.6,359.49 L1080.4,358.91 L1082.2,357.38 L1084,356 L1084.72,354 L1085.36,352 L1086.09,350 L1086.96,348 L1087.5,346 L1089.17,343.8 L1090.83,341.95 L1092.5,341 L1094.58,340.94 L1096.67,339.61 L1098.75,340.1 L1100.83,339.7 L1102.92,339.49 L1105,339 L1107.1,337.57 L1109.2,337.24 L1111.3,336" stroke="#237a4a" stroke-width="1.45"/>
<path d="M113.5,525.6 L116.12,525.26 L118.75,524.6 L120.56,525.42 L122.38,526.25 L124.19,526.54 L126,528 L128,528.19 L130,527.98 L132,529.15 L134,528 L135.8,526.01 L137.6,528.09 L139.4,525.3 L142.5,525 L141.99,522.5 L143.75,520 L144,517.75 L144.74,515.5 L144.24,513.25 L144.09,511 L144.75,508.75 L145,506.5 L148.75,506 L149.62,504 L150.39,502 L150,500 L149.3,497.5 L150.6,495 L150.93,492.92 L150.57,490.83 L151.87,488.75 L151.06,486.67 L151.68,484.58 L152.49,482.5 L151.78,480.42 L152.32,478.33 L151.85,476.25 L152.36,474.17 L151.67,472.08 L153,470 L153.05,467.67 L153.94,465.33 L155,463 L155.83,460.32 L156.67,461.22 L157.5,457.5 L159.6,454.78 L161.7,453.94 L163.8,455 L164.61,453.07 L165.57,451.14 L165.98,449.21 L167.35,447.29 L168.51,445.36 L167.72,443.43 L168.8,441.5 L171,440.82 L173.2,442.97 L175.4,445.32 L177.6,445 L178.13,443 L178.03,441 L178.68,439 L178.97,437 L178.02,435 L179.7,433 L179.17,431 L179.86,429 L179.99,427 L180.7,425 L181.08,422.81 L182.03,420.62 L181.67,418.44 L182.3,416.25 L183.18,414.06 L183.28,411.88 L182.92,409.69 L183.8,407.5 L184.43,405.5 L183.8,403.5 L184.06,401.5 L184.54,399.5 L185.55,397.5 L184.16,395.5 L184.63,393.5 L185.1,391.5 L186.95,389.58 L188.8,387.5 L188.73,389.43 L189.91,391.36 L191.2,393.29 L189.84,395.21 L191.49,397.14 L191.54,399.07 L192.6,401 L194.57,403.17 L194.61,405.33 L195.45,407.5 L195.81,409.67 L196.05,411.83 L197.6,414 L198.31,411.86 L199.21,409.71 L199.72,407.57 L201.58,405.43 L201.63,403.29 L201.25,401.14 L202.6,399 L202.68,396.85 L203.51,394.7 L202.91,392.55 L203.95,390.4 L204.05,388.25 L204.95,386.1 L205.3,383.95 L205.19,381.8 L206.81,379.65 L206.4,377.5 L208.9,376.3 L209.85,377.77 L210.8,381.31 L211.75,381.62 L212.7,385 L215.2,384.72 L217.7,385.92 L220.2,387.5 L221.87,385.82 L223.53,385.99 L225.2,384 L226.45,380.68 L227.7,382.49 L228.95,377.75 L230.2,377.5 L232.08,375 L232.1,372.5 L232.96,374.7 L233.29,376.9 L234.93,379.1 L235.2,381.3 L236.87,381.95 L238.53,383.7 L240.2,385 L242.7,384.68 L245.2,386.22 L247.7,384 L249.8,383.64 L251.9,387.42 L254,386.3 L254.41,384.1 L254.75,381.9 L255.52,379.7 L256.5,377.5 L257.71,375 L257.2,372.5 L257.8,370 L257.57,367.86 L258.79,365.71 L258.88,363.57 L259.71,361.43 L258.59,359.29 L260.62,357.14 L260,355 L261.05,353 L260.09,351 L260.64,349 L261.46,347 L261.3,345 L262.27,343 L262.43,341 L262.34,339 L261.91,337 L263,335 L262.12,332.81 L263.64,330.62 L262.88,328.44 L264.69,326.25 L265.35,324.06 L264.53,321.88 L265.26,319.69 L265,317.5 L266,320.65 L267,322.06 L268,321.82 L269,325 L268.7,323 L269.42,321 L270.21,319 L270,317 L271,315 L271.65,317.14 L272.94,319.29 L272.4,321.43 L273.25,323.57 L273.16,325.71 L274.3,327.86 L275,330 L276.67,329.66 L278.33,328.87 L280,326.42 L281.67,324.06 L283.33,325.64 L285,322.5 L286.67,319.36 L288.33,319.44 L290,317.83 L291.67,317.42 L293.33,316.8 L295,315 L296.5,312.94 L298,313.89 L299.5,312.39 L301,309.87 L302.5,307.5 L302.64,305.33 L302.46,303.17 L304,301 L304.79,299 L304.64,297 L304.43,295 L305.13,293 L304.55,291 L303.36,289 L303.25,287 L304.16,285 L304.55,283 L304.92,281 L304.75,279 L304.51,277 L304.15,275 L305.1,273 L305.27,271 L304.47,269 L304.27,267 L305,265 L304.79,263 L304.49,261 L305.39,259 L304.57,257 L305.67,255 L305,253 L305.97,251 L306.93,249 L305.12,247 L306.03,245 L307.23,243 L306.76,241 L306.38,239 L306.71,237 L306.27,235 L305.62,233 L305.57,231 L306.27,229 L306.45,227 L307.68,225 L307.23,223 L306.12,221 L307.55,219 L306.52,217 L307.5,215 L308.46,213 L307.23,211 L308.7,209 L308.45,207 L308.29,205 L309.56,203 L308.93,201 L308.23,199 L309.82,197 L309.15,195 L309.74,193 L310.4,191 L310.97,189 L310.82,187 L311,185 L310.65,183 L311.27,181 L311.38,179 L312.37,177 L312.49,175 L313.85,173 L313.28,171 L314.77,169 L315.73,167 L315,165 L316.67,163.77 L318.33,161.36 L320,160 L321,163.2 L322,162.94 L323,165.83 L324,169.36 L325,170 L326,168.53 L327,165.72 L328,163.58 L329,161.34 L330,160 L331,159.65 L332,158.14 L333,155.91 L334,152.5 L336,152.45 L338,152.78 L340,152.5 L341.67,153.15 L343.33,154.53 L345,157.5 L347.14,158.13 L349.29,158.14 L351.43,156 L353.57,156.05 L355.71,157.78 L357.86,155.93 L360,157.5 L362.5,159.43 L365,160.4 L367.5,160 L369.62,159.92 L371.75,162.05 L373.88,164.68 L376,165 L377.3,168.02 L378.6,168.87 L379.9,170.76 L381.2,172.59 L382.5,175 L383.33,177.59 L384.17,179.72 L385,180.9 L385.83,182.67 L386.67,185.19 L387.5,187.5 L389,188.66 L390.5,189.91 L392,190.48 L393.5,193.47 L395,195 L396.67,197.44 L398.33,198.33 L400,200 L400.79,202 L400.28,204 L400.57,206 L400.7,208 L399.12,210 L400.71,212 L401,214 L399.57,216 L399.32,218 L399.78,220 L400.27,222 L400.75,224 L399.55,226 L400.49,228 L399.9,230 L400.87,232 L400.68,234 L400.95,236 L400.51,238 L401,240 L401.05,242 L402.36,244 L401.45,246 L402.61,248 L402.67,250 L403.29,252 L404,254 L405.67,254.18 L407.33,257.51 L409,257.5 L411.5,257.18 L414,255 L414.44,253 L416.53,251 L416.16,249 L417.72,247 L417.5,245 L419.5,243.69 L421.5,244.28 L423.5,244.18 L425.5,246.89 L427.5,245 L428.9,247.5 L428.87,250 L430,252.5 L430.41,254.71 L430.44,256.93 L430.72,259.14 L430.49,261.36 L431.98,263.57 L431.91,265.79 L432,268 L431.92,270.17 L433.15,272.33 L433.98,274.5 L434.03,276.67 L434.14,278.83 L435.24,281 L435.79,283.17 L436.96,285.33 L436.3,287.5 L436.41,289.5 L437.49,291.5 L437.76,293.5 L437.95,295.5 L438.8,297.5 L439.38,299.58 L439.01,301.67 L439.98,303.75 L440.18,305.83 L441.83,307.92 L442.3,310 L442.18,312 L442,314 L442.51,316 L443.35,318 L442.92,320 L442.3,322 L444.76,324 L443.53,326 L444,328 L445.23,330 L444.65,332 L445.78,334 L446.81,336 L447.5,338 L448.75,339.78 L450,340.53 L451.25,344.63 L452.5,343.46 L453.75,345.44 L455,347.5 L456.88,350.51 L458.75,349.82 L460.62,348.99 L462.5,352 L463.72,354.17 L464.48,356.33 L465.84,358.5 L466.97,360.67 L466.69,362.83 L467.5,365 L469.12,368.01 L470.75,368.76 L472.38,369.57 L474,372.5 L475.2,373.21 L476.4,374.82 L477.6,375.85 L478.8,380.95 L480,381 L481.5,378.46 L483,376.1 L484.5,375.73 L486,372.75 L487.5,372.5 L488.68,374.64 L489.63,376.79 L489.27,378.93 L489.4,381.07 L489.73,383.21 L490.8,385.36 L491,387.5 L492.62,390.31 L494.25,392.27 L495.88,392.61 L497.5,395 L498.33,397.31 L499.17,397.56 L500,401.43 L500.83,404.33 L501.67,406.56 L502.5,407.5 L502.69,410 L503.17,412.5 L505,415 L506.33,414.89 L507.67,410.98 L509,409 L511.12,408.69 L513.25,409.31 L515.38,408.68 L517.5,409 L518.11,411.06 L518.42,413.11 L517.85,415.17 L517.67,417.22 L518.51,419.28 L518.03,421.33 L519.99,423.39 L519.26,425.44 L520,427.5 L521.88,427.56 L523.75,430.39 L525.62,431.92 L527.5,432.5 L529.38,433.7 L531.25,434.7 L533.12,435.49 L535,439 L536.25,440.09 L537.5,442.36 L538.75,443.58 L540,447.5 L541.88,445.99 L543.75,445.29 L545.62,443.36 L547.5,442.5 L549.58,443.97 L551.67,441.7 L553.75,441.79 L555.83,442.72 L557.92,442.22 L560,440 L562,441.11 L564,442.4 L566,442.8 L568,444.24 L570,445 L571.88,445.8 L573.75,445.41 L575.62,446.51 L577.5,449 L579.17,448.12 L580.83,447.53 L582.5,444 L583.25,442 L583.09,440 L583.55,438 L585,436 L586.6,438 L587.38,440 L587.59,442 L587.5,444 L589.58,443.89 L591.67,443.46 L593.75,445.15 L595.83,443.7 L597.92,442.87 L600,444 L602.5,442.61 L605,445 L606.33,442.3 L607.67,440.73 L609,439 L610.5,439.49 L612,443.56 L613.5,442.51 L615,445 L615.87,447.14 L615.38,449.29 L615.26,451.43 L616.08,453.57 L614.89,455.71 L616.73,457.86 L616,460 L616.8,457.39 L617.6,455.5 L618.4,454.55 L619.2,452.25 L620,450 L621.25,450.95 L622.5,454.68 L623.75,454.52 L625,457.5 L626.88,458.76 L628.75,459.11 L630.62,461.09 L632.5,462.5 L634.5,463.71 L636.5,463.28 L638.5,462.95 L640.5,465.63 L642.5,465 L644.5,465.76 L646.5,464.49 L648.5,465.07 L650.5,465.2 L652.5,466 L653.67,469.56 L654.83,469.53 L656,471 L657.57,473.3 L657.64,475.6 L658.32,477.9 L658.5,480.2 L659,482.5 L660.75,481.86 L662.5,485 L662.42,483 L662.78,481 L662.16,479 L663.76,477 L662.82,475 L662.78,473 L661.73,471 L663.55,469 L663.67,467 L662.07,465 L662.21,463 L663.75,461 L662.3,459 L663.39,457 L663.08,455 L664.2,453 L663.33,451 L663.73,449 L663.5,447 L663.33,449 L662.47,451 L663.52,453 L664.56,455 L663.58,457 L663.92,459 L663.78,461 L664.3,463 L664.27,465 L664.73,467 L663.37,469 L663,471 L664.81,473 L663.89,475 L664.26,477 L665.31,479 L664.03,481 L665.54,483 L664.5,485 L665.21,482.5 L666,480 L668,477.75 L670,479.23 L672,479.02 L674,478.67 L676,477.99 L678,479.75 L680,477.5 L681.88,478.13 L683.75,476.68 L685.62,474.33 L687.5,474 L689.67,474.2 L691.83,475.1 L694,475 L695.37,473 L693.81,471 L696.03,469 L696.38,467 L696,465 L697.62,463.56 L699.25,461.71 L700.88,458.75 L702.5,457.5 L704.12,456.01 L705.75,456.36 L707.38,454.45 L709,452.5 L710.08,450.38 L710.03,448.27 L709.55,446.15 L710.7,444.04 L711.48,441.92 L711.75,439.81 L711.29,437.69 L710.16,435.58 L711.96,433.46 L710.56,431.35 L713.08,429.23 L711.76,427.12 L712.5,425 L712.21,422.92 L714.08,420.83 L714.12,418.75 L714.25,416.67 L715.57,414.58 L715,412.5 L716.67,413.35 L718.33,415.52 L720,416 L721.88,415.26 L723.75,414.12 L725.62,412.85 L727.5,411 L729.38,412.6 L731.25,411.11 L733.12,413.53 L735,415 L736.88,416.42 L738.75,416.52 L740.62,419.62 L742.5,420 L744.5,419.06 L746.5,417.82 L748.5,419.09 L750.5,417.01 L752.5,417.5 L754.5,417.49 L756.5,418.54 L758.5,419.01 L760.5,420.52 L762.5,421 L764.38,423.17 L766.25,422.76 L768.12,425.05 L770,426 L772,425.63 L774,425.83 L776,426 L777.33,422.97 L778.67,422.54 L780,420 L781.25,422.04 L782.5,425 L784.5,424.74 L786.5,424.55 L788.5,424.33 L790.5,425.91 L792.5,425.24 L794.5,424.11 L796.5,426.77 L798.5,427.56 L800.5,425.14 L802.5,426 L804.55,427 L806.59,425.55 L808.64,426.53 L810.68,427.35 L812.73,425.66 L814.77,425.65 L816.82,426.35 L818.86,427.4 L820.91,427.89 L822.95,426.7 L825,427.5 L827.14,427.84 L829.29,429.82 L831.43,428.4 L833.57,426.81 L835.71,428.98 L837.86,427.38 L840,429 L841.67,429.41 L843.33,430.61 L845,432.5 L847.14,433.61 L849.29,434.39 L851.43,433.91 L853.57,433.63 L855.71,431.78 L857.86,434.09 L860,432.5 L862.14,433.62 L864.29,430.69 L866.43,433.32 L868.57,431.39 L870.71,430.81 L872.86,431.18 L875,430 L877.14,431.32 L879.29,428.68 L881.43,429.38 L883.57,429.44 L885.71,427.06 L887.86,428.04 L890,426 L892.5,425.49 L895,424.3 L897.5,424 L898.22,422.08 L898.97,420.17 L900.1,418.25 L900.9,416.33 L900.96,414.42 L901,412.5 L901.8,410.68 L902.6,408.63 L903.4,406.32 L904.2,402.61 L905,402.5 L906.14,400 L907.67,397.5 L907.5,395 L909.8,393.8 L912.1,394.88 L914.4,394.5 L916.7,394.14 L919,394 L920,391.04 L921,388.82 L922,388.7 L923,387.09 L924,385 L926,384.54 L928,386.52 L930,386 L931.33,387.44 L932.67,389.63 L934,391 L936.33,390.36 L938.67,391.72 L941,390 L942.33,388.33 L943.67,385.99 L945,384 L947.5,381.01 L950,381 L952,383.39 L954,382.96 L956,382.5 L957.67,386.06 L959.33,384.78 L961,387.5 L962.67,389.13 L964.33,390.72 L966,392.5 L968,392.22 L970,393.45 L972,393.73 L974,395.12 L976,395.21 L978,393.45 L980,395 L981.5,396 L982.42,393.67 L982.09,391.33 L982.5,389 L984.58,389.91 L986.67,388.7 L988.75,387.92 L990.83,385.49 L992.92,385.83 L995,385 L997,385.69 L999,383.37 L1001,383.66 L1003,380.38 L1005,381 L1007.14,379.81 L1009.29,380.39 L1011.43,379.66 L1013.57,378.84 L1015.71,380.31 L1017.86,379.14 L1020,379 L1022,378.36 L1024,376.92 L1026,377.12 L1028,373.11 L1030,374 L1032,370.44 L1034,371.06 L1036,369 L1037.33,368.14 L1038.67,364.81 L1040,362.5 L1042,362.34 L1044,360.88 L1046,361.48 L1048,360.22 L1050,359 L1052,357.95 L1054,360.14 L1056,357.51 L1058,356.05 L1060,357.5 L1062,357.76 L1064,355.47 L1066,354.69 L1068,352.09 L1070,352.5 L1072,351.88 L1074,350.43 L1076,349.33 L1078,350.09 L1080,347.5 L1081.67,345.97 L1083.33,345.25 L1085,342.5 L1085.08,340.42 L1085.88,338.33 L1085.86,336.25 L1087.1,334.17 L1087.64,332.08 L1087.5,330 L1089.17,329.17 L1090.83,327.21 L1092.5,326 L1094.58,324.68 L1096.67,326.18 L1098.75,328.64 L1100.83,327.27 L1102.92,327.93 L1105,327.5 L1107.1,328.19 L1109.2,324.89 L1111.3,324" stroke="#0a4f2c" stroke-width="5.2"/>
<path d="M113.5,486 L116.25,484.36 L119,485.6 L121.12,486.5 L123.25,488.44 L125.38,488.74 L127.5,490 L129.62,489.88 L131.75,488.26 L133.88,489.05 L136,489 L137.67,487.01 L139.33,486.44 L141,484 L141.83,482 L142.49,480 L142.88,478 L144,476 L144.08,473.88 L145,471.75 L146.16,469.62 L146,467.5 L147.62,464.19 L149.25,462.31 L150.88,463.31 L152.5,460 L153.54,457.95 L153.29,455.91 L153.38,453.86 L153.22,451.82 L153.47,449.77 L153.27,447.73 L154.41,445.68 L154.23,443.64 L153.68,441.59 L154.53,439.55 L155,437.5 L157,435.81 L159,435 L158.97,437.14 L160.44,439.29 L160.42,441.43 L159.28,443.57 L160.69,445.71 L161.27,447.86 L161,450 L162.3,449.14 L163.6,446.7 L164.9,442.56 L166.2,442.77 L167.5,440 L168.44,438.21 L169.38,437.52 L170.31,434.8 L171.25,431.26 L172.19,432.06 L173.12,427.77 L174.06,427.85 L175,425 L176.25,423.52 L177.5,420.81 L178.75,417.94 L180,417.5 L179.62,415.48 L179.63,413.46 L180.04,411.44 L180.06,409.42 L181.03,407.4 L180.46,405.38 L180.88,403.37 L179.73,401.35 L180.14,399.33 L180.87,397.31 L180.93,395.29 L180.83,393.27 L180.29,391.25 L180.02,389.23 L181.44,387.21 L180.28,385.19 L180.47,383.17 L181.49,381.15 L180.78,379.13 L180.46,377.12 L181.25,375.1 L180.75,373.08 L181.56,371.06 L180.87,369.04 L180.55,367.02 L181,365 L183.17,366.77 L185.33,366.74 L187.5,366 L188.46,368.25 L189.2,370.5 L189.45,372.75 L191,375 L193,373.27 L195,371.44 L197,371.99 L199,370 L200.12,368 L199.84,366 L200.25,364 L201.2,362 L201.5,360 L202.27,358 L202.76,356 L203.21,354 L203.83,352 L204,350 L203.94,348 L205.24,346 L204.45,344 L205.81,342 L206.05,340 L206.81,338 L206.97,336 L207.5,334 L209,335.9 L210.5,335.96 L212,338.65 L213.5,340.12 L215,342.5 L217.5,341.97 L220,340.99 L222.5,340 L223.57,337.82 L224.64,335.98 L225.71,334.03 L226.79,332.73 L227.86,331.42 L228.93,329.86 L230,327.5 L231.67,325.69 L233.33,323.25 L235,322.5 L236.67,323.44 L238.33,326.41 L240,327.5 L242.08,326.34 L244.17,326.68 L246.25,325.31 L248.33,327.21 L250.42,326.26 L252.5,326 L253.71,323.49 L254.93,321.93 L256.14,320.68 L257.36,318.16 L258.57,316.5 L259.79,314.39 L261,312.5 L260.58,310.5 L260.54,308.5 L262.07,306.5 L261.5,304.5 L262.56,302.5 L262.75,300.5 L262.14,298.5 L262.25,296.5 L262.5,294.5 L263.8,292.5 L263.19,290.5 L263.25,288.5 L264.02,286.5 L263.31,284.5 L264,282.5 L264.12,284.69 L264.56,286.88 L265.27,289.06 L265.08,291.25 L265.84,293.44 L266.67,295.62 L266.54,297.81 L267.5,300 L269.38,300.36 L271.25,302.82 L273.12,302.87 L275,305 L276.43,303.37 L277.86,302.77 L279.29,300.76 L280.71,300.73 L282.14,297.74 L283.57,295.12 L285,295 L286.5,293.4 L288,291.4 L289.5,289.99 L291,287.5 L290.93,285.42 L292.25,283.33 L293.53,281.25 L293.76,279.17 L294.88,277.08 L295,275 L296.5,272.89 L298,272.36 L299.5,270.48 L301,270.28 L302.5,267.5 L304.05,264.92 L305.6,264 L306.22,261.96 L305.76,259.92 L305.72,257.88 L305.39,255.83 L305.21,253.79 L305.05,251.75 L305.97,249.71 L305.38,247.67 L306.46,245.62 L306.15,243.58 L306.19,241.54 L306.55,239.5 L305.98,237.46 L306.51,235.42 L305.25,233.38 L305.89,231.33 L306.65,229.29 L306.12,227.25 L307.03,225.21 L306.3,223.17 L305.87,221.12 L307.02,219.08 L306.43,217.04 L306.4,215 L306.44,212.98 L306.65,210.95 L306.45,208.93 L306.8,206.9 L307.53,204.88 L306.94,202.86 L307.35,200.83 L307.19,198.81 L307.74,196.79 L308.13,194.76 L308.28,192.74 L308,190.71 L307.94,188.69 L308.61,186.67 L309.05,184.64 L309.08,182.62 L309.77,180.6 L309.12,178.57 L308.94,176.55 L309.21,174.52 L309.5,172.5 L310.61,170.56 L310.25,168.61 L311.25,166.67 L311.14,164.72 L312.44,162.78 L313.51,160.83 L314.28,158.89 L314.69,156.94 L315,155 L317.5,155.35 L320,154 L321.33,155.41 L322.67,159.32 L324,160 L325,159.36 L326,154.47 L327,152.83 L328,152.28 L329,150.2 L330,147.5 L332.25,148.23 L334.5,146.9 L336.75,145.54 L339,146 L340.17,147.58 L341.33,151.55 L342.5,152.5 L344.58,152.75 L346.67,151.57 L348.75,153.11 L350.83,154.08 L352.92,153.75 L355,154 L357,154.72 L359,154.81 L361,154.62 L363,153.95 L365,155 L367,156.04 L369,157.6 L371,157.5 L373,159.89 L375,160 L376.25,163.11 L377.5,163.99 L378.75,165.32 L380,166.73 L381.25,167.63 L382.5,170 L383.5,173.29 L384.5,173.7 L385.5,175.43 L386.5,179.44 L387.5,180 L388.75,182.51 L390,182.88 L391.25,185.23 L392.5,186.96 L393.75,189.03 L395,190 L396.67,190.23 L398.33,192.55 L400,195 L399.38,197.06 L400.21,199.12 L399.84,201.18 L400.46,203.24 L401.16,205.29 L400.63,207.35 L399.98,209.41 L400.45,211.47 L400.72,213.53 L399.72,215.59 L401.24,217.65 L400.83,219.71 L401.17,221.76 L401.43,223.82 L401.02,225.88 L401.61,227.94 L401,230 L401.42,232 L400.8,234 L401.48,236 L401.58,238 L402.16,240 L402.76,242 L401.34,244 L402.2,246 L402.02,248 L402.5,250 L404.17,251.86 L405.83,254.07 L407.5,255 L410,256.36 L412.5,255 L412.04,253 L413.29,251 L414.22,249 L413.51,247 L414.61,245 L414.85,243 L415.68,241 L415.53,239 L414.79,237 L416,235 L418.17,234.14 L420.33,235.09 L422.5,234.74 L424.67,234.66 L426.83,235.99 L429,235 L428.68,237.14 L429.55,239.29 L430.21,241.43 L429.11,243.57 L430.3,245.71 L430.33,247.86 L430.7,250 L430.76,252.19 L432.34,254.38 L431.53,256.56 L432.6,258.75 L432.2,260.94 L432.54,263.12 L433.49,265.31 L433.8,267.5 L434.84,269.5 L434.72,271.5 L435.6,273.5 L435.72,275.5 L436.3,277.5 L437.15,279.58 L437.04,281.67 L437.37,283.75 L437.92,285.83 L438.12,287.92 L438.2,290 L438.98,291.97 L439.75,293.43 L440.52,295.75 L441.3,297.5 L441.38,299.64 L442.48,301.79 L442.09,303.93 L442.8,306.07 L442.39,308.21 L443.19,310.36 L443.2,312.5 L442.49,314.55 L442.99,316.59 L443.95,318.64 L443.53,320.68 L442.61,322.73 L443.29,324.77 L443.47,326.82 L443.27,328.86 L442.92,330.91 L443.06,332.95 L443.8,335 L444.68,333 L443.75,331 L444.46,329 L444.49,327 L443.87,325 L444.46,323 L444.53,321 L444.6,319 L447,320.5 L448.67,321.4 L450.33,324.27 L452,326 L453.33,327.99 L454.67,330.14 L456,332 L457.5,332.97 L459,334.22 L460.5,335.95 L462,336.52 L463.5,339.41 L465,340 L466.67,341.47 L468.33,342.44 L470,343.45 L471.67,345.24 L473.33,346.23 L475,347.5 L477.5,347.89 L480,349.64 L482.5,350 L484.17,349.71 L485.83,348.11 L487.5,345 L488.5,347.49 L489.5,348.7 L490.5,352.44 L491.5,353.28 L492.5,355 L493.8,357.22 L495.1,358.32 L496.4,361.1 L497.7,362.58 L499,365 L499.18,367 L499.96,369 L500.58,371 L501.03,373 L501.52,375 L501.14,377 L502.74,379 L502.59,381 L503.4,383 L504,385 L503.91,387 L505.61,389 L506.25,391 L506.65,393 L507.5,395 L509.12,392.72 L510.75,390.72 L512.38,390.53 L514,387.5 L515.2,388.95 L516.4,390.5 L517.6,392.86 L518.8,395.52 L520,397.5 L521.5,398.69 L523,400.4 L524.5,402.2 L526,404.54 L527.5,405 L529.38,407.44 L531.25,406.52 L533.12,407.77 L535,409 L537,408.97 L539,410.2 L541,410.86 L543,410.55 L545,410 L546.5,408.3 L548,407.19 L549.5,404.68 L551,403.92 L552.5,402.5 L554.17,401.3 L555.83,399.38 L557.5,398.82 L559.17,398.44 L560.83,395.9 L562.5,395 L564.5,394.74 L566.5,393.85 L568.5,392.06 L570.5,393.57 L572.5,392.5 L573.75,389.81 L575,387.78 L576.25,387.76 L577.5,385.92 L578.75,384.52 L580,382.5 L581,380.69 L582,379.28 L583,376.47 L584,374.99 L585,372.51 L586,370 L586.8,366.98 L587.6,366.13 L588.4,364.39 L589.2,362.26 L590,360 L592,358.01 L594,356 L595.5,357.53 L597,360.51 L598.5,361.25 L600,362.5 L600.83,363.89 L601.67,367.65 L602.5,369.04 L603.33,370.97 L604.17,372.87 L605,375 L604.8,377.08 L605.47,379.17 L606.71,381.25 L608.24,383.33 L608.6,385.42 L609,387.5 L608.84,389.64 L610.39,391.79 L611.25,393.93 L610.4,396.07 L611.14,398.21 L611.27,400.36 L612.5,402.5 L613.75,403.5 L615,404.81 L616.25,407.34 L617.5,410 L620,410.14 L622.5,410.11 L625,410 L626.5,412.49 L628,414.47 L629.5,415.27 L631,417.5 L630.94,419.6 L632.66,421.7 L633.4,423.8 L633.68,425.9 L635,428 L636.67,430.12 L638.33,430.14 L640,432 L642.5,431.72 L645,431.04 L647.5,430 L648.38,433.08 L649.25,432.31 L650.12,434.4 L651,437.5 L653.17,437.91 L655.33,439.97 L657.5,440 L659.75,441.71 L662,441 L661.86,439 L662.02,437 L662.88,435 L661.95,433 L662.25,431 L662.66,429 L662.6,427 L662.15,425 L662.67,423 L662.3,421 L662.03,419 L661.88,417 L662.64,415 L663.36,413 L662.58,411 L662.54,409 L662.89,407 L662.31,405 L662.65,403 L662.95,401 L662.8,399 L663.22,397 L662.93,395 L662.7,393 L663.19,391 L663.35,389 L663.79,387 L663,385 L662.45,387 L662.77,389 L663.97,391 L663.21,393 L663.98,395 L663.38,397 L662.97,399 L662.88,401 L663.02,403 L663.87,405 L662.59,407 L662.98,409 L663.66,411 L663.57,413 L663.26,415 L663.29,417 L663.19,419 L663.42,421 L664.54,423 L663.9,425 L663.92,427 L664.18,429 L663.78,431 L662.99,433 L664.58,435 L663.06,437 L663.82,439 L664,441 L667.5,441 L669.58,441.2 L671.67,438.89 L673.75,440.38 L675.83,439 L677.92,438.43 L680,439 L682,437.51 L684,435.8 L686,435 L688.17,435.56 L690.33,437.32 L692.5,439 L693.43,436.75 L693.47,434.5 L693.72,432.25 L695,430 L696.25,428.02 L697.5,426.28 L698.75,423.65 L700,423.33 L701.25,421.24 L702.5,420 L703.75,418.55 L705,416.62 L706.25,414.92 L707.5,412.66 L708.75,412.28 L710,410 L710.58,407.81 L710.87,405.62 L711.15,403.44 L712.11,401.25 L711.38,399.06 L711.49,396.88 L712.6,394.69 L712.5,392.5 L712.99,390 L713.92,387.5 L715,385 L715.8,387.57 L716.6,389.65 L717.4,392.15 L718.2,391.56 L719,395 L721,392.55 L723,391.43 L725,391 L727,390.58 L729,393.29 L731,394.04 L733,392.76 L735,395 L736.88,396.59 L738.75,398.41 L740.62,399.69 L742.5,400 L744.38,398.97 L746.25,395.95 L748.12,395.68 L750,394 L751.25,390.78 L752.5,389 L754.17,390.02 L755.83,391.78 L757.5,392.5 L759.58,393.46 L761.67,393.45 L763.75,393.12 L765.83,395.61 L767.92,394.26 L770,395 L772.14,394.78 L774.29,395.59 L776.43,394.6 L778.57,394.33 L780.71,394.39 L782.86,393.33 L785,394 L787.14,394.09 L789.29,394.19 L791.43,394.27 L793.57,394.35 L795.71,394.48 L797.86,395.94 L800,395 L802,394.99 L804,395.43 L806,396.46 L808,397.76 L810,397.5 L812.08,397.9 L814.17,399.21 L816.25,399.27 L818.33,400.77 L820.42,400.44 L822.5,401 L824.58,399.81 L826.67,400.06 L828.75,402.94 L830.83,401.13 L832.92,403.5 L835,402.5 L836.88,404.27 L838.75,403.77 L840.62,407.17 L842.5,407.5 L844.69,406.98 L846.88,408.09 L849.06,407.25 L851.25,406.71 L853.44,407.77 L855.62,407.6 L857.81,407.88 L860,408 L862,406.85 L864,406.93 L866,403.86 L868,404.52 L870,402.5 L872,401.69 L874,400.09 L876,400.99 L878,400.34 L880,399 L882,399.01 L884,397.47 L886,398.36 L888,397.33 L890,396 L892,394.94 L894,394.99 L896,392.46 L898,393.06 L900,392.5 L901,389.99 L902,388.29 L903,387.34 L904,384.55 L905,382.5 L905.73,380 L907.53,377.5 L907.5,375 L909.38,375.44 L911.25,371.56 L913.12,372.56 L915,371 L916.5,368.86 L918,366.73 L919.5,364.84 L921,362.82 L922.5,362 L925,362.05 L927.5,362.5 L928.75,364.22 L930,366.2 L931.25,368.53 L932.5,369 L934.38,368.67 L936.25,368.3 L938.12,368.14 L940,366 L940.26,363.8 L940.67,361.6 L941.67,359.4 L941.87,357.2 L942.5,355 L943.8,353.42 L945.1,352.36 L946.4,347.8 L947.7,348.27 L949,345 L951.5,343.74 L954,342.5 L956.5,343.75 L959,345 L960.45,347.08 L959.56,349.17 L960.02,351.25 L961.56,353.33 L961.83,355.42 L962.5,357.5 L964.5,357.86 L966.5,358.93 L968.5,358.67 L970.5,360.27 L972.5,361 L974.5,359.73 L976.5,358.15 L978.5,357.69 L980.5,356.38 L982.5,355 L984.58,354.5 L986.67,354.87 L988.75,353.86 L990.83,353.55 L992.92,352.44 L995,352.5 L997,351.22 L999,349.82 L1001,349.75 L1003,349.25 L1005,349 L1007.14,348.77 L1009.29,348.17 L1011.43,348.18 L1013.57,349.58 L1015.71,348.06 L1017.86,348.32 L1020,347.5 L1021.88,346.52 L1023.75,345 L1025.62,343.03 L1027.5,341 L1029.38,339.3 L1031.25,336.56 L1033.12,336.36 L1035,335 L1036.88,334.29 L1038.75,332.48 L1040.62,330.19 L1042.5,329 L1044.5,329.36 L1046.5,329.24 L1048.5,326.53 L1050.5,326.34 L1052.5,326 L1054.58,325.88 L1056.67,323.39 L1058.75,324.09 L1060.83,323.7 L1062.92,323.72 L1065,322.5 L1067,320.37 L1069,322.33 L1071,320.25 L1073,320.2 L1075,319 L1077.25,317.19 L1079.5,317.58 L1081.75,316.24 L1084,315 L1085.4,312.92 L1085.37,310.83 L1086.3,308.75 L1085.71,306.67 L1087.69,304.58 L1087.5,302.5 L1088.61,300.58 L1088.58,298.67 L1088.86,296.75 L1090.12,294.83 L1090.22,292.92 L1091,291 L1093.25,291.03 L1095.5,292.36 L1097.75,292.28 L1100,292.5 L1102.26,291.83 L1104.52,292.19 L1106.78,293.03 L1109.04,293.36 L1111.3,292.5" stroke="#d4d4d4" stroke-width="4.5"/>
<path d="M113.5,415 L116.25,415.46 L119,414.24 L121.75,414.61 L124.5,413.43 L127.25,414.12 L130,414 L132.5,413.41 L135,412.24 L137.5,409.53 L140,408.53 L142.5,407.5 L144.29,405.58 L146.07,403.03 L147.86,402.98 L149.64,400.71 L151.43,398.84 L153.21,397.31 L155,395 L157.14,393.4 L159.29,392.25 L161.43,391.14 L163.57,389.67 L165.71,387.61 L167.86,385.8 L170,385 L172,383.31 L174,381.2 L176,378.45 L178,377.57 L180,375 L180.5,372.5 L180.76,370 L180.97,367.5 L181.42,365 L181.99,362.5 L181.78,360 L182.64,357.5 L182.5,355 L183.08,352.5 L183.63,350 L184.46,347.5 L184.57,345 L185.13,342.5 L185.34,340 L186,337.5 L186.55,335 L186.84,332.5 L187.5,330 L190,329.04 L192.5,329.22 L195,328.67 L197.5,327.5 L199.38,325.18 L201.25,323.43 L203.12,322.28 L205,320 L207.5,319.59 L210,317.5 L212.5,316.82 L215,316 L217.5,315.42 L220,314.57 L222.5,313 L225,310.75 L227.5,310.83 L230,309 L231.88,306.98 L233.75,304.86 L235.62,303.21 L237.5,301 L240,300.74 L242.5,301.05 L245,300.74 L247.5,302.47 L250,302.2 L252.5,302.08 L255,302.5 L257,300.86 L259,299.15 L261,297.5 L261.42,295 L261.93,292.5 L262.62,290 L262.75,287.5 L263.36,285 L264.33,282.5 L265,280 L267.5,280.95 L270,280.75 L272.5,281.16 L275,281 L277.5,280.37 L280,278.9 L282.5,278.17 L285,277 L287.5,275.78 L290,275 L292,272.99 L294,271.21 L296,268.78 L298,266.64 L300,265 L300.57,262.5 L301.02,260 L301.57,257.5 L302.35,255 L302.57,252.5 L303.01,250 L303.32,247.5 L303.68,245 L304.67,242.5 L305,240 L305.26,237.5 L305.29,235 L305.36,232.5 L305.09,230 L305.45,227.5 L305.44,225 L305.64,222.5 L305.38,220 L305.92,217.5 L305.95,215 L305.4,212.5 L305.73,210 L305.82,207.5 L306.04,205 L306.33,202.5 L306,200 L305.77,197.5 L306.83,195 L306.96,192.5 L306.86,190 L307.08,187.5 L307.69,185 L307.69,182.5 L307.88,180 L308.15,177.5 L309.04,175 L308.21,172.5 L309,170 L310.29,167.5 L310.05,165 L311.6,162.5 L311.87,160 L312.78,157.5 L313.32,155 L314.15,152.5 L315,150 L317.5,149.68 L320,147.62 L322.5,146.1 L325,145.79 L327.5,144.1 L330,144 L332.5,143.87 L335,144.43 L337.5,144.44 L340,145 L342.75,145.36 L345.5,147.15 L348.25,147.78 L351,147.5 L354,148.16 L357,147.97 L360,147 L363,147.88 L366,147.96 L369,149 L371.33,150.32 L373.67,151.8 L376,154 L377.8,155.81 L379.6,158.14 L381.4,160.91 L383.2,163.49 L385,165 L386.5,167.22 L388,169.36 L389.5,170.67 L391,173.32 L392.5,175 L393.75,177.11 L395,179.98 L396.25,183.4 L397.5,185 L398.62,187.7 L399.75,189.9 L400.88,192.8 L402,195 L402.21,197.5 L402.84,200 L402.95,202.5 L403.87,205 L403.98,207.5 L404.43,210 L404.89,212.5 L405.29,215 L405.7,217.5 L406,220 L408,223.04 L410,226 L411.2,222.75 L412.5,219.5 L413.67,216.94 L414.83,214.08 L416,211 L417.14,209.26 L418.29,207.1 L419.43,204.9 L420.57,201.89 L421.71,199.41 L422.86,197.51 L424,195 L426,196.74 L428,198.94 L430,200 L430.26,202.5 L430.8,205 L430.47,207.5 L431.24,210 L431.18,212.5 L431.26,215 L431.38,217.5 L431.7,220 L432.1,222.5 L432.99,225 L433.05,227.5 L433,230 L433.51,232.5 L433.57,235 L434.12,237.5 L434.02,240 L434.17,242.5 L434.72,245 L435.36,247.5 L436.21,250 L435.48,252.5 L436.07,255 L436.39,257.5 L437,260 L437.2,262.5 L437.64,265 L438.35,267.5 L438.66,270 L439.51,272.5 L439.5,275 L440.27,277.5 L440.71,280 L441.36,282.5 L442,285 L443.38,287.75 L444.75,289.57 L446.12,292.48 L447.5,295 L450,296.19 L452.5,298.06 L455,299.72 L457.5,300.85 L460,302.5 L461.88,305.09 L463.75,306.31 L465.62,309.75 L467.5,311 L469,312.75 L470.5,315.79 L472,318.25 L473.5,320.94 L475,322.5 L477.5,322.11 L480,322.09 L482.5,321.57 L485,321 L487.5,321.85 L490,322.24 L492.5,322.5 L494.67,324.29 L496.83,325.9 L499,327.5 L499.68,330.11 L499.81,332.71 L499.99,335.32 L500.08,337.93 L500.58,340.54 L500.76,343.14 L501.81,345.75 L502.21,348.36 L501.9,350.96 L502.57,353.57 L503.25,356.18 L503.21,358.79 L503.44,361.39 L504,364 L505.17,366.04 L506.33,369.38 L507.5,372.5 L508.57,370.03 L509.64,367.65 L510.71,365.38 L511.79,362.69 L512.86,360.47 L513.93,358.28 L515,355 L516.21,357.8 L517.05,360.6 L517.58,363.4 L519.16,366.2 L520,369 L521.25,371.73 L522.5,374.82 L523.75,375.9 L525,379 L527.5,381.36 L530,384 L532.5,383.1 L535,384.11 L537.5,384 L539.38,382.4 L541.25,379.48 L543.12,378.22 L545,376 L546.67,373.42 L548.33,371.62 L550,369 L552.5,368.75 L555,367.96 L557.5,367.05 L560,367.5 L562.75,367.47 L565.5,368.51 L568.25,368.99 L571,369 L572.62,366.71 L574.25,365.28 L575.88,363.89 L577.5,361 L578.67,357.65 L579.83,355.46 L581,352.5 L582.25,350.13 L583.5,347.01 L584.75,344.67 L586,342.5 L588.17,340.9 L590.33,337.73 L592.5,335 L595,335.46 L597.5,334.55 L600,335 L600.88,337.5 L601.53,340 L602.38,342.5 L602.47,345 L603.03,347.5 L604.53,350 L605,352.5 L606.06,355 L606.37,357.5 L607.15,360 L607.5,362.5 L609.17,364.19 L610.83,368.14 L612.5,370 L613.75,372.69 L615,373.85 L616.25,376.48 L617.5,379 L619.25,382.7 L621,385 L623,388.9 L625,391 L626.88,393.49 L628.75,395.45 L630.62,397.16 L632.5,400 L635.33,400.64 L638.17,401.24 L641,402.5 L643.67,401.48 L646.33,400.23 L649,399 L651.83,400.47 L654.67,399.79 L657.5,401 L660,398.96 L662.5,396.59 L665,395 L668,394.15 L671,394.02 L674,392.5 L676.83,391.99 L679.67,392.47 L682.5,392.5 L685,391.76 L687.5,389.47 L690,389 L692.5,386.35 L695,384 L696.5,382.4 L698,378.33 L699.5,377.4 L701,374 L703.25,372.39 L705.5,370.65 L707.75,368.06 L710,366 L710.65,363.5 L711.06,361 L711.89,358.5 L712.5,356 L714.17,353.86 L715.83,350.45 L717.5,349 L720,348.74 L722.5,348.64 L725,347.2 L727.5,345.7 L730,346 L732.5,347.75 L735,347.48 L737.5,348.79 L740,350 L742.5,350.11 L745,351.57 L747.5,351 L747.88,348.5 L749.27,346 L749.71,343.5 L750.36,341 L751.63,338.5 L752.5,336 L754.17,338.39 L755.83,340.59 L757.5,342.5 L760,344.31 L762.5,344.93 L765,346 L767.5,347.42 L770,348.23 L772.5,350 L775,350.26 L777.5,349.51 L780,349.38 L782.5,349.57 L785,349.23 L787.5,348 L790,349.11 L792.5,347.64 L795,348.32 L797.5,348.49 L800,349 L802.5,349.74 L805,349.5 L807.5,351.45 L810,352.55 L812.5,355 L815,355.85 L817.5,356.05 L820,355.47 L822.5,355.51 L825,356.21 L827.5,356.18 L830,356 L832.5,356.1 L835,358.15 L837.5,359.35 L840,360 L842.5,361.02 L845,360.09 L847.5,360.6 L850,360.5 L853,361.51 L856,360.72 L859,361 L861.83,359.42 L864.67,357.37 L867.5,356 L870,355.83 L872.5,354.74 L875,353.35 L877.5,353.88 L880,353.17 L882.5,352.5 L885,352.08 L887.5,351.06 L890,350.6 L892.5,351.4 L895,350 L897,347.77 L899,345.85 L901,345.22 L903,343.59 L905,341 L905.69,338.5 L906,336 L906.96,333.5 L907.5,331 L910,330.54 L912.5,330.88 L915,330 L917.5,328.59 L920,328.12 L922.5,327.13 L925,326 L927.5,327.02 L930,328.9 L932.5,329 L935,328.12 L937.5,326.51 L940,326 L942,324.26 L944,322.18 L946,320 L948.17,318.56 L950.33,317.76 L952.5,316 L955,316.77 L957.5,318.63 L960,321 L960.83,323.5 L961.55,326 L961.92,328.5 L962.5,331 L965,331.81 L967.5,331.08 L970,331.9 L972.5,330.79 L975,330.1 L977.5,330.85 L980,331 L982.5,328.98 L985,326.95 L987.5,325 L990,324.11 L992.5,323.61 L995,322.19 L997.5,321.99 L1000,321 L1002.5,321.08 L1005,321.01 L1007.5,321.48 L1010,321.43 L1012.5,321.37 L1015,321 L1017.5,319.52 L1020,319.51 L1022.5,318.12 L1025,317.5 L1027.5,316.25 L1030,315.48 L1032.5,314.3 L1035,312.5 L1037.5,311.88 L1040,310.89 L1042.5,310 L1045,309 L1047.5,307.95 L1050,306.18 L1052.5,304.72 L1055,304 L1057.5,302.92 L1060,301.64 L1062.5,300.29 L1065,299 L1067.5,298.48 L1070,295.68 L1072.5,295.27 L1075,294 L1077.5,291.28 L1080,289.79 L1082.5,287.5 L1084.17,284.93 L1085.83,281.49 L1087.5,279 L1090,278.2 L1092.5,276.6 L1095,275.85 L1097.5,276 L1100.33,275.85 L1103.17,274.87 L1106,274.5" stroke="#bcbcbc" stroke-width="4.1" stroke-dasharray="0.01 9.3"/>
<path d="M113.5,387.5 L115.5,386.15 L117.5,388.2 L119.5,387.14 L121.5,386.26 L123.5,387.15 L125.5,385.53 L127.5,387.3 L129.5,386.29 L131.5,385.6 L133.5,386.01 L135.5,384.38 L137.5,385 L138.57,383.64 L139.64,382.19 L140.71,380.39 L141.79,378.27 L142.86,375.34 L143.93,374.56 L145,372.5 L146.75,370.5 L148.5,370.58 L150.25,368.92 L152,367.75 L153.75,367.8 L155.5,367.38 L157.25,366.21 L159,364 L160.93,362.86 L162.86,361.9 L164.79,360.59 L166.71,359.93 L168.64,359.51 L170.57,358.81 L172.5,357.5 L174,355.74 L175.5,354.57 L177,352.22 L178.5,351.17 L180,350 L180.74,347.86 L180.9,345.71 L180.68,343.57 L180.64,341.43 L180.84,339.29 L180.59,337.14 L181,335 L181.02,332.81 L182.25,330.62 L182.05,328.44 L183.19,326.25 L183.02,324.06 L183.99,321.88 L185.22,319.69 L185,317.5 L187.14,317.24 L189.29,316.03 L191.43,315.57 L193.57,313.57 L195.71,314.63 L197.86,312.68 L200,312.5 L201.67,310.66 L203.33,309.46 L205,308.73 L206.67,306.91 L208.33,305.67 L210,305.17 L211.67,303.7 L213.33,303.17 L215,301 L217,301.25 L219,301.2 L221,300 L222.62,297.96 L224.25,297.58 L225.88,296.64 L227.5,295 L229.06,294.27 L230.62,292.04 L232.19,291.33 L233.75,290.29 L235.31,287.48 L236.88,286.16 L238.44,284.81 L240,284 L242.14,283.75 L244.29,282.37 L246.43,282.74 L248.57,281.97 L250.71,281.16 L252.86,280.17 L255,281 L256.67,280.84 L258.33,279.07 L260,277.5 L261.67,274.23 L263.33,274.55 L265,272.5 L267.14,271.55 L269.29,270.2 L271.43,269.97 L273.57,269.32 L275.71,270.08 L277.86,268.33 L280,267.5 L281.79,266.41 L283.57,265.7 L285.36,264.64 L287.14,262.35 L288.93,262.97 L290.71,261.24 L292.5,260 L293.33,258.72 L294.17,257.2 L295,254 L296.88,252.16 L298.75,252.01 L300.62,248.91 L302.5,247.5 L302.58,245.31 L302.12,243.12 L303.66,240.94 L303.18,238.75 L303.21,236.56 L303.4,234.38 L304.06,232.19 L304,230 L304.52,228 L304.41,226 L304.05,224 L303.92,222 L303.49,220 L304.03,218 L304.55,216 L304.24,214 L305.21,212 L304.92,210 L304.43,208 L304.82,206 L304.75,204 L304.39,202 L304.62,200 L304.17,198 L304.73,196 L305.35,194 L304.76,192 L305,190 L306.05,187.81 L305.55,185.62 L306.27,183.44 L306.46,181.25 L306.3,179.06 L306.41,176.88 L307.38,174.69 L307.5,172.5 L308.2,170.5 L308.2,168.5 L308.5,166.5 L308.14,164.5 L308.99,162.5 L310,160.5 L310.41,158.5 L310.47,156.5 L310.33,154.5 L311,152.5 L311.8,151.14 L312.6,148.32 L313.4,147.08 L314.2,145.54 L315,142.5 L317,140.7 L319,140 L321,139 L322.33,141.21 L323.67,143.3 L325,145 L325.78,142.86 L326.81,140.71 L327.55,138.57 L327.64,136.43 L328.54,134.29 L329.74,132.14 L330,130 L332.5,128.94 L335,128.96 L337.5,129 L337.37,131.12 L338.4,133.25 L340.13,135.38 L340,137.5 L342.25,138.38 L344.5,136.52 L346.75,137.63 L349,136 L351.12,135.51 L353.25,134.58 L355.38,133.34 L357.5,132.5 L359.62,133.98 L361.75,132.79 L363.88,135.45 L366,135 L368,136.47 L370,137.57 L372,137.59 L374,140 L375.5,143.13 L377,144.41 L378.5,145.89 L380,147.5 L380.94,149.51 L381.88,152.01 L382.81,152.86 L383.75,155.3 L384.69,157.51 L385.62,158.36 L386.56,160.24 L387.5,162.5 L389.12,165.28 L390.75,165.71 L392.38,167.62 L394,170 L395.5,171.94 L397,174.26 L398.5,175.76 L400,176 L399.93,178.11 L401.31,180.22 L400.33,182.33 L400.98,184.44 L401.61,186.56 L402.11,188.67 L402.32,190.78 L402.49,192.89 L402.5,195 L404.17,195.46 L405.83,197.29 L407.5,200 L409.17,201.75 L410.83,203.77 L412.5,205 L412.93,202.75 L413.03,200.5 L413.79,198.25 L414,196 L415.03,193.75 L414.41,191.5 L416.33,189.25 L417.09,187 L417.26,184.75 L417.5,182.5 L419.25,180.88 L421,180 L423.5,180.59 L426,181 L426.67,183.3 L427.96,185.6 L428,187.9 L428.79,190.2 L429,192.5 L429.76,194.64 L429.69,196.79 L429.65,198.93 L429.49,201.07 L430.19,203.21 L431.09,205.36 L431,207.5 L431.64,209.69 L430.74,211.88 L431.62,214.06 L432.05,216.25 L432.61,218.44 L432.36,220.62 L432.62,222.81 L433,225 L433.39,227.19 L433.95,229.38 L434.15,231.56 L434.19,233.75 L434.79,235.94 L435.31,238.12 L435.4,240.31 L436,242.5 L436.38,244.64 L436.78,246.79 L436.65,248.93 L438.47,251.07 L438.13,253.21 L438.94,255.36 L439,257.5 L440.47,259.64 L440.6,261.79 L440.82,263.93 L441.87,266.07 L442.26,268.21 L443.16,270.36 L444,272.5 L444.67,274.58 L444.38,276.67 L445.27,278.75 L445.45,280.83 L446.34,282.92 L446,285 L448,286.39 L450,287.65 L452,288.48 L454,289 L456.33,288.24 L458.67,287.83 L461,287.5 L462,289.05 L463,291.07 L464,294 L465,297.09 L466,296.98 L467,300.35 L468,301.22 L469,302.43 L470,305 L471,306.86 L472,309.24 L473,311.09 L474,313.03 L475,314 L477,314.66 L479,315.67 L481,316 L481.31,314.07 L481.83,312.14 L483.03,310.21 L483.68,308.29 L483.78,306.36 L484.44,304.43 L485,302.5 L487,300.85 L489,300 L490.67,302.04 L492.33,303.21 L494,306 L495.67,307.46 L497.33,308.66 L499,310 L499.06,312.19 L500.01,314.38 L499.06,316.56 L499.62,318.75 L499.93,320.94 L499.43,323.12 L500.26,325.31 L500,327.5 L500.05,329.58 L501.01,331.67 L501.32,333.75 L502.29,335.83 L501.4,337.92 L502.5,340 L503.57,342.08 L504.09,344.17 L504.02,346.25 L503.73,348.33 L504.66,350.42 L505,352.5 L505.8,349.65 L506.6,349.07 L507.4,346.62 L508.2,343.7 L509,342.5 L511.12,343.13 L513.25,341.09 L515.38,341.69 L517.5,340 L518.38,341.64 L519.25,343.49 L520.12,344.77 L521,347.5 L522,349.85 L523,351.65 L524,353.23 L525,356 L526.25,358.88 L527.5,359.15 L528.75,362.13 L530,362.5 L532,362.43 L534,360.64 L536,360.54 L538,361.46 L540,361 L541.88,360.69 L543.75,357.85 L545.62,355.81 L547.5,355 L549.5,353.22 L551.5,353.35 L553.5,352.46 L555.5,350.06 L557.5,349 L559.58,348.5 L561.67,348.5 L563.75,350.01 L565.83,348.89 L567.92,349.79 L570,350 L571.5,348.31 L573,348.19 L574.5,344.24 L576,343.19 L577.5,342.5 L577.94,340.5 L579.4,338.5 L579.38,336.5 L580.71,334.5 L581,332.5 L582,330.07 L583,327.49 L584,326.21 L585,325 L586.25,324.17 L587.5,321.23 L588.75,319.14 L590,318.1 L591.25,316.01 L592.5,315 L595,315.97 L597.5,316.75 L600,317.5 L601,319.95 L602,321.55 L603,324.38 L604,325 L603.79,327.14 L605.47,329.29 L604.74,331.43 L606.25,333.57 L606.18,335.71 L606.79,337.86 L607.5,340 L608.31,341.38 L609.12,344 L609.94,345.35 L610.75,348.01 L611.56,349.25 L612.38,351.93 L613.19,354.38 L614,355 L615.42,356.93 L616.83,358.56 L618.25,359.4 L619.67,361.78 L621.08,363.14 L622.5,365 L624.38,365.55 L626.25,366.87 L628.12,370.01 L630,370 L630.75,370.62 L631.5,372.73 L632.25,374.79 L633,377.4 L633.75,379.08 L634.5,381.52 L635.25,383.34 L636,385 L638,384.82 L640,383.81 L642,383.9 L644,384.86 L646,384 L647,382.74 L648,379.7 L649,378.34 L650,376 L651.88,377.05 L653.75,378.56 L655.62,379.87 L657.5,382.5 L659.38,381.5 L661.25,380.51 L663.12,377.76 L665,376 L667,375.69 L669,375.1 L671,373.8 L673,371.94 L675,372.5 L677,372.51 L679,371.36 L681,371.39 L683,369.64 L685,369 L687,367.72 L689,368.26 L691,367.26 L693,365.48 L695,364 L694.78,361.83 L695.34,359.67 L696,357.5 L698.25,356.28 L700.5,356.38 L702.75,355.54 L705,355 L706.2,352.88 L707.4,351.56 L708.6,347.95 L709.8,345.74 L711,345 L711.6,343 L712.4,341 L712.84,339 L714.16,337 L714,335 L715.17,332.71 L716.33,330.73 L717.5,329 L719.38,328.07 L721.25,326.81 L723.12,327.32 L725,326 L727.25,326.97 L729.5,328.54 L731.75,326.99 L734,329 L736,328.74 L738,331.12 L740,331 L742,331.1 L744,330.46 L746,330.63 L748,330.79 L750,330 L750.83,327.52 L751.67,326.87 L752.5,324 L754.5,325.16 L756.5,325.36 L758.5,325.96 L760.5,327.63 L762.5,327.5 L764.5,328.35 L766.5,328.91 L768.5,329.3 L770.5,330.72 L772.5,332 L774.58,332.09 L776.67,331.35 L778.75,331.61 L780.83,332.83 L782.92,331.46 L785,332 L787.08,332.54 L789.17,332.32 L791.25,330.74 L793.33,332.43 L795.42,331.98 L797.5,332 L799.5,331.85 L801.5,333.18 L803.5,333.66 L805.5,334.65 L807.5,335.5 L809.58,335.52 L811.67,336.79 L813.75,336.78 L815.83,337.59 L817.92,338.03 L820,337.5 L822.08,337.02 L824.17,337.96 L826.25,338.2 L828.33,336.96 L830.42,338.89 L832.5,338 L834.38,339.04 L836.25,339.56 L838.12,340.61 L840,341 L842,340.64 L844,341.75 L846,342.4 L848,342.87 L850,342 L852,342.08 L854,341.79 L856,341.24 L858,339.94 L860,341 L862,339.75 L864,338.78 L866,338.54 L868,337.03 L870,336 L872,335.28 L874,335.51 L876,334.16 L878,333.62 L880,332.5 L882.08,331.44 L884.17,331.72 L886.25,331.08 L888.33,332.09 L890.42,331.1 L892.5,331 L894.5,329.4 L896.5,328.43 L898.5,327.08 L900.5,327.12 L902.5,325 L904,324.56 L905.5,322.52 L907,320.57 L908.5,320.23 L910,317.5 L912,317.44 L914,316.85 L916,314.88 L918,314.72 L920,314 L922.5,312.74 L925,311 L926.5,308.21 L928,306.77 L929.5,306.24 L931,304 L932.62,304.44 L934.25,307.54 L935.88,308.72 L937.5,310 L939.38,309.05 L941.25,307.77 L943.12,306.89 L945,306 L946,305.32 L947,301.49 L948,300.8 L949,299 L951,299.84 L953,299.98 L955,300.01 L957,300.26 L959,301 L959.39,303 L960.24,305 L960.18,307 L960.44,309 L961,311 L963.17,311.82 L965.33,314.46 L967.5,315 L969.5,313.7 L971.5,314.29 L973.5,313.51 L975.5,312.79 L977.5,312.5 L979.5,312.58 L981.5,312.46 L983.5,311.16 L985.5,311.36 L987.5,310 L989.58,309.72 L991.67,309.17 L993.75,308.18 L995.83,307.89 L997.92,309.18 L1000,307.5 L1002.08,307.65 L1004.17,306.32 L1006.25,307.94 L1008.33,307.81 L1010.42,306.95 L1012.5,307.5 L1014.58,307.69 L1016.67,306.74 L1018.75,304.99 L1020.83,305.6 L1022.92,305.29 L1025,305 L1027,305.19 L1029,304.15 L1031,303.76 L1033,302.9 L1035,302.5 L1037,301.62 L1039,300.48 L1041,300.28 L1043,298.62 L1045,297.5 L1047,297.38 L1049,296.37 L1051,296.66 L1053,294.47 L1055,294 L1057,293.47 L1059,291.38 L1061,291.16 L1063,291.36 L1065,290 L1067,288.37 L1069,287.89 L1071,286.68 L1073,285.65 L1075,285 L1076.67,282.63 L1078.33,281.58 L1080,280 L1081.5,278.41 L1083,276.56 L1084.5,273.74 L1086,272.5 L1088.17,271.86 L1090.33,269.63 L1092.5,270 L1094.5,270.55 L1096.5,268.85 L1098.5,269.16 L1100.5,266.8 L1102.5,267.5 L1104.5,268.33 L1106.5,267.91 L1108.5,266.28 L1110.5,266" stroke="#10821f" stroke-width="4.9" stroke-dasharray="9.1 10.5"/>
<path d="M662.7,348 L662.79,350.5 L662.46,353 L662.75,355.5 L663.27,358 L662.99,360.5 L662.97,363 L662.36,365.5 L662.61,368 L663.02,370.5 L663.11,373 L662.24,375.5 L662.78,378 L663.33,380.5 L662.8,383" stroke="#10821f" stroke-width="5.2"/>
<path d="M662.7,322 L662.73,325 L662.63,328 L662.7,331" stroke="#1a9e22" stroke-width="4.6"/>
<path d="M113.5,349.5 L116,349.65 L118.5,349.57 L121,349.06 L123.5,348 L126,348.53 L128.5,347.88 L131,348.42 L133.5,347.46 L136,348.35 L138.5,347.95 L141,347.5" stroke="#7a7a7a" stroke-width="4.8"/>
<path d="M185,311 L187.67,310.38 L190.33,310.17 L193,310.9 L195.67,309.42 L198.33,308.61 L201,309" stroke="#7a7a7a" stroke-width="4.8"/>
<path d="M236,280 L238.71,280.27 L241.43,280.27 L244.14,279.95 L246.86,280.12 L249.57,278.9 L252.29,278.83 L255,279 L257.5,276.36 L260,274.23 L262.5,272.5" stroke="#7a7a7a" stroke-width="4.8"/>
<path d="M275,240 L277.5,240.42 L280,239.68 L282.5,239.47 L285,238.7 L287.5,239.42 L290,239.45 L292.5,238.92 L295,239 L297.25,237.6 L299.5,235.72 L301.75,235.96 L304,234" stroke="#7a7a7a" stroke-width="4.8"/>
<path d="M307,175 L307.54,172.5 L306.85,170 L307,167.5" stroke="#7a7a7a" stroke-width="4.8"/>
<path d="M350,116 L352.5,116.79 L355,116.59 L357.5,117.68 L360,116.92 L362.5,117.95 L365,119.52 L367.5,119.03 L370,119.89 L372.5,119.61 L375,121.23 L377.5,121" stroke="#7a7a7a" stroke-width="4.8"/>
<path d="M407.5,162.5 L410,161.07 L412.5,159.27 L415,159 L417.8,159.3 L420.6,157.93 L423.4,157.27 L426.2,156.45 L429,156" stroke="#7a7a7a" stroke-width="4.8"/>
<path d="M443.3,221 L443.43,223.67 L443.93,226.33 L444.08,229 L443.69,231.67 L443.63,234.33 L444,237" stroke="#7a7a7a" stroke-width="4.8"/>
<path d="M474,275 L476.75,276.38 L479.5,277.17 L482.25,277.61 L485,278 L487.33,278.66 L489.67,279.95 L492,281.33 L494.33,282.3 L496.67,283.17 L499,284" stroke="#7a7a7a" stroke-width="4.8"/>
<path d="M524,320 L525.2,322.1 L526.4,324.94 L527.6,326.38 L528.8,328.73 L530,331 L532.71,330.31 L535.43,331.41 L538.14,331.08 L540.86,331.63 L543.57,332.21 L546.29,331.76 L549,332.5" stroke="#7a7a7a" stroke-width="4.8"/>
<path d="M592.5,305 L595,306.79 L597.5,307.47 L600,309 L602,311.16 L604,312.66 L606,314.6 L608,317" stroke="#7a7a7a" stroke-width="4.8"/>
<path d="M652.5,340 L653.75,343.16 L655,346 L657.58,345.53 L660.17,346.21 L662.75,345.29 L665.33,344.78 L667.92,345.58 L670.5,345.16 L673.08,345.12 L675.67,344.35 L678.25,344.67 L680.83,344.08 L683.42,343.71 L686,344" stroke="#7a7a7a" stroke-width="4.8"/>
<path d="M662.6,332 L662.16,334.5 L662.65,337 L662.26,339.5 L662.28,342 L663.01,344.5 L662.6,347" stroke="#7a7a7a" stroke-width="4.8"/>
<path d="M731,323 L733.71,323.83 L736.43,323.05 L739.14,322.77 L741.86,322.62 L744.57,322.29 L747.29,322.46 L750,322.5 L751.25,320.72 L752.5,317.5 L755.33,316.67 L758.17,316.95 L761,317" stroke="#7a7a7a" stroke-width="4.8"/>
<path d="M817.5,319 L820,319.26 L822.5,319.73 L825,319.56 L827.5,320 L828.67,322.18 L829.83,324.79 L831,327.5 L834.25,328.05 L837.5,329 L840,330.74 L842.5,331" stroke="#7a7a7a" stroke-width="4.8"/>
<path d="M897.5,326 L899.25,323.26 L901,320 L903.17,317.8 L905.33,316.18 L907.5,314 L910.38,313.78 L913.25,313.28 L916.12,311.98 L919,312.5" stroke="#7a7a7a" stroke-width="4.8"/>
<path d="M961,297 L963.54,297.22 L966.08,296.24 L968.62,296.76 L971.15,296.63 L973.69,296.12 L976.23,295.89 L978.77,295.89 L981.31,296.45 L983.85,296.32 L986.38,296.74 L988.92,295.29 L991.46,295.58 L994,296" stroke="#7a7a7a" stroke-width="4.8"/>
<path d="M1050,290 L1052.5,289.35 L1055,288.97 L1057.5,287.76 L1060,287.51 L1062.5,286.46 L1065,286 L1067.2,284.44 L1069.4,281.96 L1071.6,280.79 L1073.8,278.67 L1076,277.5" stroke="#7a7a7a" stroke-width="4.8"/>
<circle cx="156" cy="337.5" r="2.3" fill="#636363" stroke="none"/>
<circle cx="171" cy="335" r="2.3" fill="#636363" stroke="none"/>
<circle cx="213" cy="302" r="2.3" fill="#636363" stroke="none"/>
<circle cx="227" cy="295" r="2.3" fill="#636363" stroke="none"/>
<circle cx="320" cy="126" r="2.3" fill="#636363" stroke="none"/>
<circle cx="333" cy="120.5" r="2.3" fill="#636363" stroke="none"/>
<circle cx="392" cy="133" r="2.3" fill="#636363" stroke="none"/>
<circle cx="437" cy="172.5" r="2.3" fill="#636363" stroke="none"/>
<circle cx="452.5" cy="257" r="2.3" fill="#636363" stroke="none"/>
<circle cx="464.5" cy="261" r="2.3" fill="#636363" stroke="none"/>
<circle cx="501" cy="304.5" r="2.3" fill="#636363" stroke="none"/>
<circle cx="511" cy="314" r="2.3" fill="#636363" stroke="none"/>
<circle cx="565" cy="333" r="2.3" fill="#636363" stroke="none"/>
<circle cx="622" cy="327.5" r="2.3" fill="#636363" stroke="none"/>
<circle cx="637" cy="334.5" r="2.3" fill="#636363" stroke="none"/>
<circle cx="700" cy="337.5" r="2.3" fill="#636363" stroke="none"/>
<circle cx="779.5" cy="317" r="2.3" fill="#636363" stroke="none"/>
<circle cx="799" cy="317" r="2.3" fill="#636363" stroke="none"/>
<circle cx="862" cy="329" r="2.3" fill="#636363" stroke="none"/>
<circle cx="881" cy="329" r="2.3" fill="#636363" stroke="none"/>
<circle cx="931" cy="303" r="2.3" fill="#636363" stroke="none"/>
<circle cx="1012.5" cy="297.5" r="2.3" fill="#636363" stroke="none"/>
<circle cx="1032" cy="295.5" r="2.3" fill="#636363" stroke="none"/>
<circle cx="1089" cy="267.5" r="2.3" fill="#636363" stroke="none"/>
<circle cx="1107" cy="262" r="2.3" fill="#636363" stroke="none"/>
<path d="M113.5,331 L116.14,331.2 L118.77,330.9 L121.41,330.66 L124.05,330.39 L126.68,330.77 L129.32,330.18 L131.95,330.85 L134.59,330.31 L137.23,330.22 L139.86,330.16 L142.5,330" stroke="#1a9e22" stroke-width="4.9"/>
<path d="M159,325 L161.64,324.79 L164.29,324.02 L166.93,323.65 L169.57,322.72 L172.21,322.15 L174.86,320.88 L177.5,321 L180,317.76 L182.5,316 L183.75,313.39 L185,309.69 L186.25,308.02 L187.5,305 L190,304.1 L192.5,303.41 L195,302.39 L197.5,301.93 L200,301.12 L202.5,300.64 L205,300 L205.77,297 L206.5,294 L207.5,291 L210,290.4 L212.5,290" stroke="#1a9e22" stroke-width="4.9"/>
<path d="M230,292.5 L230.18,290 L229.9,287.5 L230.28,285 L230.67,282.5 L230.4,280 L230.37,277.5 L231,275 L233.72,273.87 L236.45,274.71 L239.18,274.52 L241.9,273.77 L244.62,273.47 L247.35,273.48 L250.08,271.96 L252.8,272.3" stroke="#1a9e22" stroke-width="4.9"/>
<path d="M262.8,270 L263.24,267.38 L263.08,264.75 L262.65,262.12 L262.69,259.5 L262.87,256.88 L262.44,254.25 L262.97,251.62 L262.47,249 L262.72,246.38 L262.34,243.75 L262.73,241.12 L262.9,238.5 L262.91,235.88 L262.72,233.25 L262.31,230.62 L262.8,228 L262.59,230.5 L262.84,233 L263.22,235.5 L263,238 L263.34,240.5 L263.3,243 L263.16,245.5 L263.79,248 L263.71,250.5 L263.62,253 L263.89,255.5 L263.8,258 L266.7,259.48 L269.6,259.42 L272.5,260" stroke="#1a9e22" stroke-width="4.9"/>
<path d="M274,231 L276.71,230.92 L279.43,231.26 L282.14,231.01 L284.86,231.16 L287.57,230.96 L290.29,231.47 L293,231.5 L295.5,233.5 L295.7,236 L296,238.5" stroke="#1a9e22" stroke-width="4.9"/>
<path d="M302.5,230 L304,229 L303.67,226.4 L304.31,223.8 L303.89,221.2 L304.2,218.6 L304.42,216 L304.23,213.4 L304.79,210.8 L304.48,208.2 L304.96,205.6 L304.92,203 L304.83,200.4 L305.29,197.8 L304.79,195.2 L304.77,192.6 L305,190 L305.44,187.5 L305.36,185 L305.65,182.5 L305.82,180 L305.93,177.5 L306.61,175 L306.42,172.5 L306.91,170 L307.17,167.5 L307.31,165 L307.42,162.5 L307.5,160 L307.59,157.5 L307.9,155 L308.04,152.5 L308.33,150 L308.4,147.5 L308.92,145 L309.38,142.5 L309.3,140 L310,137.5 L311.33,135.43 L312.67,133.98 L314,131" stroke="#1a9e22" stroke-width="4.9"/>
<path d="M322.5,117.5 L325,116.63 L327.5,115 L328.35,112 L329.12,109 L330,106 L333,105.69 L336,107.81 L339,107.5" stroke="#1a9e22" stroke-width="4.9"/>
<path d="M355,106 L357.5,106.13 L360,107.57 L362.5,108.59 L365,108.95 L367.5,110 L370,110.99 L372.5,111.82 L375,111.48 L377.5,112.5" stroke="#1a9e22" stroke-width="4.9"/>
<path d="M392.5,125 L395,124.86 L397.5,125 L398.59,127.5 L399.2,130 L399.54,132.5 L399.99,135 L400.97,137.5 L401.35,140 L401.69,142.5 L402.5,145 L405,146.5 L407.5,149" stroke="#1a9e22" stroke-width="4.9"/>
<path d="M424,145 L426.5,144.91 L429,145 L430,147.47 L431,150.36 L432,152.42 L433,154.82 L434,157.5 L435.75,160.53 L437.5,164" stroke="#1a9e22" stroke-width="4.9"/>
<path d="M439,185 L438.92,187.5 L439.71,190 L439.63,192.5 L439.62,195 L440.14,197.5 L440.38,200 L440.54,202.5 L440.85,205 L441,207.5 L441.65,210.67 L442.12,213.83 L442.3,217" stroke="#1a9e22" stroke-width="4.9"/>
<path d="M445,239 L446,243.5 L449,243.65 L452,244.87 L455,246 L458,247.31 L461,247.12 L464,247.5" stroke="#1a9e22" stroke-width="4.9"/>
<path d="M472.5,265 L475,265.44 L477.5,268.28 L480,268.71 L482.5,270 L485,270.35 L487.5,270.76 L490,271.41 L492.5,272.81 L495,272.5" stroke="#1a9e22" stroke-width="4.9"/>
<path d="M500,292.5 L502,294.18 L504,295.76 L506,297.46 L508,298.56 L510,300 L512.5,300.61 L515,301.97 L517.5,302.69 L520,304" stroke="#1a9e22" stroke-width="4.9"/>
<path d="M529,319 L530,322.5 L532.64,322.04 L535.27,322.36 L537.91,322.19 L540.55,322.85 L543.18,321.98 L545.82,322.34 L548.45,322.48 L551.09,322.22 L553.73,322.9 L556.36,321.53 L559,322" stroke="#1a9e22" stroke-width="4.9"/>
<path d="M577.5,319 L579.17,317.14 L580.83,313.94 L582.5,311 L585.33,309.63 L588.17,307.88 L591,306 L591.44,303.5 L591.79,301 L591.84,298.5 L592.5,296 L593.16,298.5 L593.39,301 L593.29,303.5 L594,306" stroke="#1a9e22" stroke-width="4.9"/>
<path d="M605,301 L607.08,303.32 L609.17,304.33 L611.25,306.62 L613.33,308.17 L615.42,310.16 L617.5,312.5 L620,314.21 L622.5,315.04 L625,317.21 L627.5,316.89 L630,319" stroke="#1a9e22" stroke-width="4.9"/>
<path d="M641,327.5 L643.88,328.19 L646.75,328.17 L649.62,328.62 L652.5,329 L655,328.34 L657.5,326.81 L660,326 L663,325.13 L666,323.32 L669,322.5 L671.2,324.49 L673.4,324.57 L675.6,326.67 L677.8,327.63 L680,329" stroke="#1a9e22" stroke-width="4.9"/>
<path d="M694,324.5 L696.5,324.35 L699,324.54 L701.5,324.65 L704,324.03 L706.5,324.35 L709,324 L710.5,322.81 L712,320.7 L713.5,318.22 L715,316 L717.5,316.58 L720,317.5" stroke="#1a9e22" stroke-width="4.9"/>
<path d="M739,317 L741.75,316.62 L744.5,316.11 L747.25,316.94 L750,316 L751.25,313.18 L752.5,310 L755.25,310.21 L758,310.06 L760.75,309.08 L763.5,310.48 L766.25,309.73 L769,309.5" stroke="#1a9e22" stroke-width="4.9"/>
<path d="M787.5,309.5 L790,309.57 L792.5,309.33 L795,309.73 L797.5,310.17 L800,309.46 L802.5,310.26 L805,309.96 L807.5,309.8 L810,310.55 L812.5,310 L815,310.12 L817.5,310.62 L820,310.5" stroke="#1a9e22" stroke-width="4.9"/>
<path d="M840,312 L842.5,312.04 L845,312.27 L847.5,311.95 L850,312.95 L852.5,312.27 L855,312.97 L857.5,311.95 L860,312.68 L862.5,312.27 L865,312.2 L867.5,312.79 L870,311.94 L872.5,312.45 L875,312.5" stroke="#1a9e22" stroke-width="4.9"/>
<path d="M894,312 L896.75,310.93 L899.5,309.43 L902.25,308.59 L905,307.5 L907.5,305.1 L910,302.5 L912.5,302.32 L915,302.63 L917.5,301.43 L920,301.36 L922.5,301" stroke="#1a9e22" stroke-width="4.9"/>
<path d="M935,295 L937.5,294.56 L940,295.02 L942.5,293.97 L945,294.55 L947.5,294 L947.6,291.33 L948.49,288.67 L949,286 L952,286.09 L955,285.45 L958,285.6 L961,286" stroke="#1a9e22" stroke-width="4.9"/>
<path d="M979,289 L981.58,289.27 L984.15,289.11 L986.73,289.49 L989.31,289.26 L991.88,289.07 L994.46,289.47 L997.04,289.5 L999.62,288.76 L1002.19,289.4 L1004.77,289.06 L1007.35,288.8 L1009.92,288.94 L1012.5,289" stroke="#1a9e22" stroke-width="4.9"/>
<path d="M1031,286 L1033.71,285.04 L1036.43,283.97 L1039.14,283.29 L1041.86,281.76 L1044.57,281.63 L1047.29,280.58 L1050,280 L1052.8,280.36 L1055.6,279.08 L1058.4,279.44 L1061.2,279.25 L1064,279" stroke="#1a9e22" stroke-width="4.9"/>
<path d="M1076,270 L1078.67,267.86 L1081.33,267.42 L1084,266 L1085.17,262.59 L1086.33,260.15 L1087.5,257.5 L1090,257.41 L1092.5,256.63 L1095,256.42 L1097.5,255.34 L1100,255.81 L1102.5,254.5" stroke="#1a9e22" stroke-width="4.9"/>
</g>
<g fill="none">
<path d="M63.2,731.2 H147.4" stroke="#2aa033" stroke-width="1.9"/>
<path d="M288.2,731.2 H372.4" stroke="#258a3c" stroke-width="1.9" stroke-dasharray="1.25 0.7"/>
<path d="M513.2,731.2 H597.4" stroke="#86cc52" stroke-width="1.8" stroke-dasharray="6.2 5.2"/>
<path d="M738.2,731.2 H822.0" stroke="#237a4a" stroke-width="1.9"/>
<path d="M963.6,731.2 H1045.6" stroke="#0a4f2c" stroke-width="4.7" stroke-linecap="round"/>
<path d="M64.4,763 H146.4" stroke="#d4d4d4" stroke-width="4.7" stroke-linecap="round"/>
<path d="M289.0,763 H372.5" stroke="#bcbcbc" stroke-width="4.2" stroke-dasharray="0.01 10.16" stroke-linecap="round"/>
<path d="M514.4,763 H596.7" stroke="#10821f" stroke-width="4.8" stroke-dasharray="9.1 10.5" stroke-linecap="round"/>
<path d="M739.0,763 H772.5" stroke="#7a7a7a" stroke-width="4.7" stroke-linecap="round"/><circle cx="793.0" cy="763" r="2.2" fill="#636363"/><circle cx="812.7" cy="763" r="2.2" fill="#636363"/>
<path d="M963.6,763 H996.7" stroke="#1a9e22" stroke-width="4.7" stroke-linecap="round"/><path d="M1017.9,763 H1045.6" stroke="#1a9e22" stroke-width="4.7" stroke-linecap="round"/>
</g>
<g font-family="Liberation Serif, serif" font-size="26" fill="#000" stroke="#000" stroke-width="0.25">
<text x="156.0" y="741.1">1Y</text>
<text x="380.7" y="741.1">2Y</text>
<text x="605.7" y="741.1">3Y</text>
<text x="830.2" y="741.1">4Y</text>
<text x="1054.7" y="741.1">5Y</text>
<text x="156.0" y="772.9">7Y</text>
<text x="380.7" y="772.9">10Y</text>
<text x="605.7" y="772.9">15Y</text>
<text x="830.2" y="772.9">20Y</text>
<text x="1054.7" y="772.9">30Y</text>
</g>
<g font-family="Liberation Serif, serif" font-size="28.2" fill="#000" stroke="#000" stroke-width="0.3">
<text x="36.0" y="622.80" textLength="54.3" lengthAdjust="spacingAndGlyphs">0.0%</text>
<text x="36.0" y="527.82" textLength="54.3" lengthAdjust="spacingAndGlyphs">1.0%</text>
<text x="36.0" y="432.83" textLength="54.3" lengthAdjust="spacingAndGlyphs">2.0%</text>
<text x="36.0" y="337.85" textLength="54.3" lengthAdjust="spacingAndGlyphs">3.0%</text>
<text x="36.0" y="242.87" textLength="54.3" lengthAdjust="spacingAndGlyphs">4.0%</text>
<text x="36.0" y="147.88" textLength="54.3" lengthAdjust="spacingAndGlyphs">5.0%</text>
<text x="36.0" y="52.90" textLength="54.3" lengthAdjust="spacingAndGlyphs">6.0%</text>
</g>
<g font-family="Liberation Serif, serif" font-size="27.4" fill="#000" stroke="#000" stroke-width="0.3">
<text transform="translate(122.90,689.6) rotate(-90)" textLength="59.3" lengthAdjust="spacingAndGlyphs">01/22</text>
<text transform="translate(166.87,689.6) rotate(-90)" textLength="59.3" lengthAdjust="spacingAndGlyphs">03/22</text>
<text transform="translate(210.84,689.6) rotate(-90)" textLength="59.3" lengthAdjust="spacingAndGlyphs">05/22</text>
<text transform="translate(254.81,689.6) rotate(-90)" textLength="59.3" lengthAdjust="spacingAndGlyphs">07/22</text>
<text transform="translate(298.78,689.6) rotate(-90)" textLength="59.3" lengthAdjust="spacingAndGlyphs">09/22</text>
<text transform="translate(342.75,689.6) rotate(-90)" textLength="59.3" lengthAdjust="spacingAndGlyphs">10/22</text>
<text transform="translate(386.72,689.6) rotate(-90)" textLength="59.3" lengthAdjust="spacingAndGlyphs">12/22</text>
<text transform="translate(430.69,689.6) rotate(-90)" textLength="59.3" lengthAdjust="spacingAndGlyphs">02/23</text>
<text transform="translate(474.66,689.6) rotate(-90)" textLength="59.3" lengthAdjust="spacingAndGlyphs">04/23</text>
<text transform="translate(518.63,689.6) rotate(-90)" textLength="59.3" lengthAdjust="spacingAndGlyphs">06/23</text>
<text transform="translate(562.60,689.6) rotate(-90)" textLength="59.3" lengthAdjust="spacingAndGlyphs">08/23</text>
<text transform="translate(606.57,689.6) rotate(-90)" textLength="59.3" lengthAdjust="spacingAndGlyphs">10/23</text>
<text transform="translate(650.54,689.6) rotate(-90)" textLength="59.3" lengthAdjust="spacingAndGlyphs">12/23</text>
<text transform="translate(694.51,689.6) rotate(-90)" textLength="59.3" lengthAdjust="spacingAndGlyphs">02/24</text>
<text transform="translate(738.48,689.6) rotate(-90)" textLength="59.3" lengthAdjust="spacingAndGlyphs">04/24</text>
<text transform="translate(782.45,689.6) rotate(-90)" textLength="59.3" lengthAdjust="spacingAndGlyphs">06/24</text>
<text transform="translate(826.42,689.6) rotate(-90)" textLength="59.3" lengthAdjust="spacingAndGlyphs">08/24</text>
<text transform="translate(870.39,689.6) rotate(-90)" textLength="59.3" lengthAdjust="spacingAndGlyphs">10/24</text>
<text transform="translate(914.36,689.6) rotate(-90)" textLength="59.3" lengthAdjust="spacingAndGlyphs">12/24</text>
<text transform="translate(958.33,689.6) rotate(-90)" textLength="59.3" lengthAdjust="spacingAndGlyphs">02/25</text>
<text transform="translate(1002.30,689.6) rotate(-90)" textLength="59.3" lengthAdjust="spacingAndGlyphs">04/25</text>
<text transform="translate(1046.27,689.6) rotate(-90)" textLength="59.3" lengthAdjust="spacingAndGlyphs">06/25</text>
<text transform="translate(1090.24,689.6) rotate(-90)" textLength="59.3" lengthAdjust="spacingAndGlyphs">08/25</text>
</g>
<text x="541" y="39.2" textLength="248" lengthAdjust="spacingAndGlyphs" font-family="Liberation Serif, serif" font-weight="bold" font-size="31.6" fill="#000">Lợi suất trái phiếu</text>
<text x="908" y="839" textLength="314" lengthAdjust="spacingAndGlyphs" font-family="Liberation Sans, sans-serif" font-style="italic" font-size="31.2" fill="#111">Nguồn: VBMA, VCBS</text>
</svg>
</body></html>
